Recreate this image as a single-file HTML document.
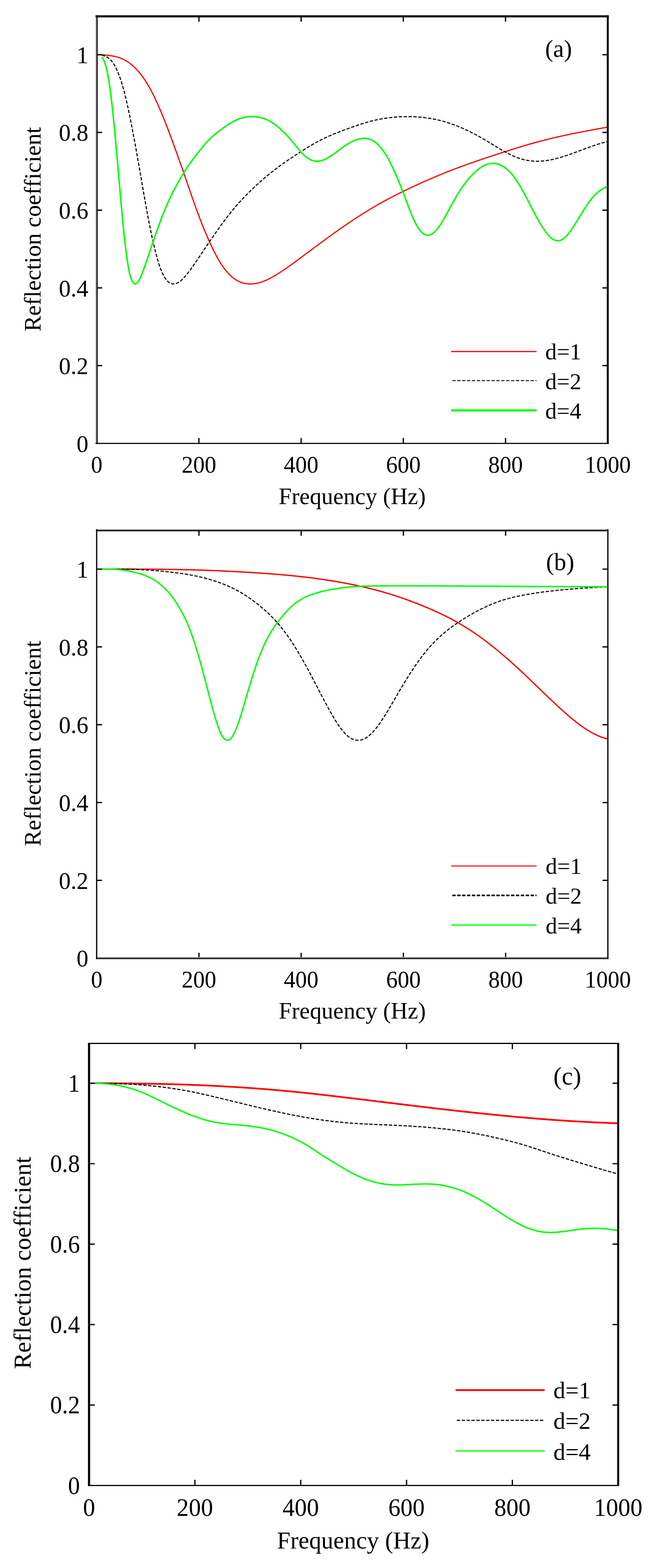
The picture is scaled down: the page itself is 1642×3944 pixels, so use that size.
<!DOCTYPE html>
<html lang="en">
<head>
<meta charset="utf-8">
<title>Reflection coefficient versus frequency</title>
<style>
html,body{margin:0;padding:0;background:#fff;}
body{width:1642px;height:3944px;overflow:hidden;}
svg{display:block;}
text{font-family:"Liberation Serif","DejaVu Serif",serif;fill:#000;}
.ax{stroke:#000;fill:none;stroke-linecap:butt;}
.r{stroke:#ff0000;fill:none;stroke-linejoin:round;}
.k{stroke:#000;fill:none;stroke-linejoin:round;}
.g{stroke:#00ff00;fill:none;stroke-linejoin:round;}
</style>
</head>
<body>
<svg width="1642" height="3944" viewBox="0 0 1642 3944">
<rect x="0" y="0" width="1642" height="3944" fill="#ffffff"/>
<g id="panel-a">
<path class="r" stroke-width="3" d="M256.1,137.8 L257.9,137.9 L259.7,138.0 L261.5,138.1 L263.3,138.3 L265.1,138.4 L267.0,138.6 L268.8,138.8 L270.6,139.0 L272.4,139.2 L274.2,139.4 L276.1,139.7 L277.9,139.9 L279.7,140.2 L281.5,140.5 L283.3,140.9 L285.2,141.2 L287.0,141.6 L288.8,142.0 L290.6,142.4 L292.4,142.9 L294.3,143.4 L296.1,143.9 L297.9,144.5 L299.7,145.1 L301.5,145.7 L303.4,146.4 L305.2,147.1 L307.0,147.9 L308.8,148.7 L310.6,149.6 L312.5,150.5 L314.3,151.5 L316.1,152.5 L317.9,153.6 L319.7,154.7 L321.6,155.9 L323.4,157.1 L325.2,158.4 L327.0,159.7 L328.8,161.2 L330.7,162.6 L332.5,164.1 L334.3,165.7 L336.1,167.4 L337.9,169.1 L339.8,170.9 L341.6,172.7 L343.4,174.6 L345.2,176.5 L347.0,178.6 L348.9,180.6 L350.7,182.8 L352.5,185.0 L354.3,187.3 L356.1,189.7 L358.0,192.1 L359.8,194.7 L361.6,197.3 L363.4,199.9 L365.2,202.7 L367.1,205.5 L368.9,208.4 L370.7,211.4 L372.5,214.5 L374.3,217.6 L376.2,220.8 L378.0,224.1 L379.8,227.5 L381.6,230.9 L383.4,234.5 L385.3,238.0 L387.1,241.7 L388.9,245.4 L390.7,249.3 L392.5,253.1 L394.4,257.1 L396.2,261.1 L398.0,265.2 L399.8,269.3 L401.6,273.5 L403.5,277.8 L405.3,282.1 L407.1,286.5 L408.9,291.0 L410.7,295.4 L412.6,300.0 L414.4,304.6 L416.2,309.2 L418.0,313.9 L419.8,318.6 L421.7,323.3 L423.5,328.1 L425.3,332.9 L427.1,337.8 L428.9,342.6 L430.8,347.5 L432.6,352.5 L434.4,357.4 L436.2,362.4 L438.0,367.4 L439.9,372.4 L441.7,377.4 L443.5,382.5 L445.3,387.6 L447.1,392.6 L449.0,397.8 L450.8,402.9 L452.6,408.0 L454.4,413.2 L456.2,418.4 L458.1,423.6 L459.9,428.8 L461.7,434.0 L463.5,439.3 L465.3,444.6 L467.2,449.9 L469.0,455.1 L470.8,460.4 L472.6,465.7 L474.4,471.0 L476.3,476.3 L478.1,481.6 L479.9,486.9 L481.7,492.1 L483.5,497.3 L485.4,502.5 L487.2,507.6 L489.0,512.8 L490.8,517.8 L492.6,522.9 L494.5,527.9 L496.3,532.8 L498.1,537.8 L499.9,542.6 L501.7,547.5 L503.6,552.2 L505.4,556.9 L507.2,561.6 L509.0,566.2 L510.8,570.8 L512.7,575.3 L514.5,579.7 L516.3,584.1 L518.1,588.4 L519.9,592.7 L521.8,596.9 L523.6,601.1 L525.4,605.1 L527.2,609.2 L529.0,613.2 L530.9,617.1 L532.7,620.9 L534.5,624.7 L536.3,628.4 L538.1,632.1 L540.0,635.7 L541.8,639.2 L543.6,642.6 L545.4,646.0 L547.2,649.3 L549.1,652.5 L550.9,655.6 L552.7,658.6 L554.5,661.5 L556.3,664.4 L558.2,667.2 L560.0,669.8 L561.8,672.4 L563.6,674.9 L565.4,677.3 L567.3,679.7 L569.1,681.9 L570.9,684.1 L572.7,686.1 L574.5,688.1 L576.4,690.0 L578.2,691.8 L580.0,693.6 L581.8,695.2 L583.6,696.8 L585.5,698.3 L587.3,699.7 L589.1,701.0 L590.9,702.3 L592.7,703.5 L594.6,704.6 L596.4,705.7 L598.2,706.6 L600.0,707.5 L601.8,708.4 L603.7,709.2 L605.5,709.9 L607.3,710.5 L609.1,711.1 L610.9,711.7 L612.8,712.2 L614.6,712.6 L616.4,713.0 L618.2,713.3 L620.0,713.6 L621.9,713.8 L623.7,714.0 L625.5,714.1 L627.3,714.2 L629.1,714.2 L631.0,714.2 L632.8,714.1 L634.6,714.1 L636.4,713.9 L638.2,713.7 L640.1,713.5 L641.9,713.3 L643.7,713.0 L645.5,712.6 L647.3,712.2 L649.2,711.8 L651.0,711.4 L652.8,710.9 L654.6,710.3 L656.4,709.8 L658.3,709.1 L660.1,708.5 L661.9,707.8 L663.7,707.1 L665.5,706.4 L667.4,705.6 L669.2,704.8 L671.0,704.0 L672.8,703.1 L674.6,702.3 L676.5,701.4 L678.3,700.4 L680.1,699.5 L681.9,698.5 L683.7,697.5 L685.6,696.5 L687.4,695.5 L689.2,694.4 L691.0,693.4 L692.8,692.3 L694.7,691.2 L696.5,690.1 L698.3,688.9 L700.1,687.8 L701.9,686.6 L703.8,685.4 L705.6,684.3 L707.4,683.1 L709.2,681.9 L711.0,680.6 L712.9,679.4 L714.7,678.2 L716.5,676.9 L718.3,675.7 L720.1,674.4 L722.0,673.1 L723.8,671.9 L725.6,670.6 L727.4,669.3 L729.2,668.0 L731.1,666.7 L732.9,665.3 L734.7,664.0 L736.5,662.7 L738.3,661.4 L740.2,660.1 L742.0,658.7 L743.8,657.4 L745.6,656.0 L747.4,654.7 L749.3,653.4 L751.1,652.0 L752.9,650.7 L754.7,649.3 L756.5,648.0 L758.4,646.6 L760.2,645.3 L762.0,643.9 L763.8,642.6 L765.6,641.2 L767.5,639.8 L769.3,638.5 L771.1,637.1 L772.9,635.8 L774.7,634.4 L776.6,633.1 L778.4,631.7 L780.2,630.4 L782.0,629.0 L783.8,627.6 L785.7,626.3 L787.5,624.9 L789.3,623.6 L791.1,622.2 L792.9,620.9 L794.8,619.5 L796.6,618.2 L798.4,616.8 L800.2,615.5 L802.0,614.1 L803.9,612.8 L805.7,611.4 L807.5,610.1 L809.3,608.8 L811.1,607.4 L813.0,606.1 L814.8,604.8 L816.6,603.4 L818.4,602.1 L820.2,600.8 L822.1,599.4 L823.9,598.1 L825.7,596.8 L827.5,595.5 L829.3,594.2 L831.2,592.9 L833.0,591.5 L834.8,590.2 L836.6,588.9 L838.4,587.6 L840.3,586.3 L842.1,585.0 L843.9,583.7 L845.7,582.4 L847.5,581.2 L849.4,579.9 L851.2,578.6 L853.0,577.3 L854.8,576.0 L856.6,574.8 L858.5,573.5 L860.3,572.2 L862.1,571.0 L863.9,569.7 L865.7,568.4 L867.6,567.2 L869.4,565.9 L871.2,564.7 L873.0,563.4 L874.8,562.2 L876.7,561.0 L878.5,559.7 L880.3,558.5 L882.1,557.3 L883.9,556.1 L885.8,554.8 L887.6,553.6 L889.4,552.4 L891.2,551.2 L893.0,550.0 L894.9,548.8 L896.7,547.6 L898.5,546.4 L900.3,545.3 L902.1,544.1 L904.0,542.9 L905.8,541.7 L907.6,540.6 L909.4,539.4 L911.2,538.3 L913.1,537.1 L914.9,536.0 L916.7,534.8 L918.5,533.7 L920.3,532.6 L922.2,531.4 L924.0,530.3 L925.8,529.2 L927.6,528.1 L929.4,527.0 L931.3,525.9 L933.1,524.8 L934.9,523.7 L936.7,522.6 L938.5,521.6 L940.4,520.5 L942.2,519.4 L944.0,518.4 L945.8,517.3 L947.6,516.3 L949.5,515.2 L951.3,514.2 L953.1,513.1 L954.9,512.1 L956.7,511.1 L958.6,510.1 L960.4,509.1 L962.2,508.1 L964.0,507.1 L965.8,506.1 L967.7,505.1 L969.5,504.1 L971.3,503.1 L973.1,502.1 L974.9,501.2 L976.8,500.2 L978.6,499.2 L980.4,498.3 L982.2,497.3 L984.0,496.4 L985.9,495.4 L987.7,494.5 L989.5,493.6 L991.3,492.6 L993.1,491.7 L995.0,490.8 L996.8,489.8 L998.6,488.9 L1000.4,488.0 L1002.2,487.1 L1004.1,486.2 L1005.9,485.3 L1007.7,484.4 L1009.5,483.5 L1011.3,482.6 L1013.2,481.7 L1015.0,480.8 L1016.8,479.9 L1018.6,479.1 L1020.4,478.2 L1022.3,477.3 L1024.1,476.4 L1025.9,475.6 L1027.7,474.7 L1029.5,473.8 L1031.4,472.9 L1033.2,472.1 L1035.0,471.2 L1036.8,470.4 L1038.6,469.5 L1040.5,468.7 L1042.3,467.8 L1044.1,467.0 L1045.9,466.1 L1047.7,465.3 L1049.6,464.5 L1051.4,463.6 L1053.2,462.8 L1055.0,462.0 L1056.8,461.1 L1058.7,460.3 L1060.5,459.5 L1062.3,458.7 L1064.1,457.9 L1065.9,457.1 L1067.8,456.2 L1069.6,455.4 L1071.4,454.6 L1073.2,453.8 L1075.0,453.0 L1076.9,452.2 L1078.7,451.5 L1080.5,450.7 L1082.3,449.9 L1084.1,449.1 L1086.0,448.3 L1087.8,447.5 L1089.6,446.8 L1091.4,446.0 L1093.2,445.2 L1095.1,444.5 L1096.9,443.7 L1098.7,442.9 L1100.5,442.2 L1102.3,441.4 L1104.1,440.7 L1106.0,439.9 L1107.8,439.2 L1109.6,438.4 L1111.4,437.7 L1113.2,436.9 L1115.1,436.2 L1116.9,435.5 L1118.7,434.7 L1120.5,434.0 L1122.3,433.3 L1124.2,432.6 L1126.0,431.8 L1127.8,431.1 L1129.6,430.4 L1131.4,429.7 L1133.3,429.0 L1135.1,428.3 L1136.9,427.6 L1138.7,426.9 L1140.5,426.2 L1142.4,425.5 L1144.2,424.8 L1146.0,424.1 L1147.8,423.4 L1149.6,422.7 L1151.5,422.0 L1153.3,421.3 L1155.1,420.6 L1156.9,420.0 L1158.7,419.3 L1160.6,418.6 L1162.4,417.9 L1164.2,417.3 L1166.0,416.6 L1167.8,416.0 L1169.7,415.3 L1171.5,414.6 L1173.3,414.0 L1175.1,413.3 L1176.9,412.7 L1178.8,412.0 L1180.6,411.4 L1182.4,410.7 L1184.2,410.1 L1186.0,409.5 L1187.9,408.8 L1189.7,408.2 L1191.5,407.5 L1193.3,406.9 L1195.1,406.3 L1197.0,405.7 L1198.8,405.0 L1200.6,404.4 L1202.4,403.8 L1204.2,403.2 L1206.1,402.5 L1207.9,401.9 L1209.7,401.3 L1211.5,400.7 L1213.3,400.1 L1215.2,399.5 L1217.0,398.9 L1218.8,398.3 L1220.6,397.7 L1222.4,397.1 L1224.3,396.4 L1226.1,395.8 L1227.9,395.2 L1229.7,394.6 L1231.5,394.0 L1233.4,393.4 L1235.2,392.8 L1237.0,392.3 L1238.8,391.7 L1240.6,391.1 L1242.5,390.5 L1244.3,389.9 L1246.1,389.3 L1247.9,388.7 L1249.7,388.1 L1251.6,387.5 L1253.4,386.9 L1255.2,386.3 L1257.0,385.7 L1258.8,385.2 L1260.7,384.6 L1262.5,384.0 L1264.3,383.4 L1266.1,382.8 L1267.9,382.2 L1269.8,381.6 L1271.6,381.1 L1273.4,380.5 L1275.2,379.9 L1277.0,379.3 L1278.9,378.7 L1280.7,378.1 L1282.5,377.6 L1284.3,377.0 L1286.1,376.4 L1288.0,375.8 L1289.8,375.3 L1291.6,374.7 L1293.4,374.1 L1295.2,373.5 L1297.1,373.0 L1298.9,372.4 L1300.7,371.8 L1302.5,371.3 L1304.3,370.7 L1306.2,370.2 L1308.0,369.6 L1309.8,369.0 L1311.6,368.5 L1313.4,367.9 L1315.3,367.4 L1317.1,366.8 L1318.9,366.3 L1320.7,365.8 L1322.5,365.2 L1324.4,364.7 L1326.2,364.2 L1328.0,363.6 L1329.8,363.1 L1331.6,362.6 L1333.5,362.0 L1335.3,361.5 L1337.1,361.0 L1338.9,360.5 L1340.7,360.0 L1342.6,359.5 L1344.4,359.0 L1346.2,358.5 L1348.0,358.0 L1349.8,357.5 L1351.7,357.0 L1353.5,356.5 L1355.3,356.0 L1357.1,355.5 L1358.9,355.0 L1360.8,354.6 L1362.6,354.1 L1364.4,353.6 L1366.2,353.1 L1368.0,352.7 L1369.9,352.2 L1371.7,351.8 L1373.5,351.3 L1375.3,350.8 L1377.1,350.4 L1379.0,349.9 L1380.8,349.5 L1382.6,349.1 L1384.4,348.6 L1386.2,348.2 L1388.1,347.7 L1389.9,347.3 L1391.7,346.9 L1393.5,346.4 L1395.3,346.0 L1397.2,345.6 L1399.0,345.2 L1400.8,344.8 L1402.6,344.3 L1404.4,343.9 L1406.3,343.5 L1408.1,343.1 L1409.9,342.7 L1411.7,342.3 L1413.5,341.9 L1415.4,341.5 L1417.2,341.1 L1419.0,340.7 L1420.8,340.3 L1422.6,339.9 L1424.5,339.5 L1426.3,339.2 L1428.1,338.8 L1429.9,338.4 L1431.7,338.0 L1433.6,337.6 L1435.4,337.2 L1437.2,336.9 L1439.0,336.5 L1440.8,336.1 L1442.7,335.8 L1444.5,335.4 L1446.3,335.0 L1448.1,334.6 L1449.9,334.3 L1451.8,333.9 L1453.6,333.6 L1455.4,333.2 L1457.2,332.8 L1459.0,332.5 L1460.9,332.1 L1462.7,331.8 L1464.5,331.4 L1466.3,331.1 L1468.1,330.7 L1470.0,330.4 L1471.8,330.0 L1473.6,329.7 L1475.4,329.3 L1477.2,329.0 L1479.1,328.6 L1480.9,328.3 L1482.7,328.0 L1484.5,327.6 L1486.3,327.3 L1488.2,326.9 L1490.0,326.6 L1491.8,326.3 L1493.6,325.9 L1495.4,325.6 L1497.3,325.3 L1499.1,324.9 L1500.9,324.6 L1502.7,324.3 L1504.5,323.9 L1506.4,323.6 L1508.2,323.3 L1510.0,322.9 L1511.8,322.6 L1513.6,322.3 L1515.5,322.0 L1517.3,321.6 L1519.1,321.3 L1520.9,321.0 L1522.7,320.7 L1524.6,320.3 L1526.4,320.0 L1528.2,319.7"/>
<path class="k" stroke-width="2.7" stroke-dasharray="8.4 3.9" d="M256.1,138.8 L257.9,139.2 L259.7,139.7 L261.5,140.2 L263.3,140.9 L265.1,141.6 L267.0,142.5 L268.8,143.4 L270.6,144.5 L272.4,145.8 L274.2,147.2 L276.1,148.8 L277.9,150.6 L279.7,152.5 L281.5,154.7 L283.3,157.2 L285.2,159.8 L287.0,162.7 L288.8,165.8 L290.6,169.2 L292.4,172.8 L294.3,176.7 L296.1,180.8 L297.9,185.2 L299.7,189.8 L301.5,194.8 L303.4,200.1 L305.2,205.7 L307.0,211.6 L308.8,217.8 L310.6,224.3 L312.5,231.1 L314.3,238.3 L316.1,245.7 L317.9,253.4 L319.7,261.3 L321.6,269.6 L323.4,278.1 L325.2,286.8 L327.0,295.7 L328.8,304.8 L330.7,314.1 L332.5,323.6 L334.3,333.2 L336.1,342.9 L337.9,352.8 L339.8,362.7 L341.6,372.7 L343.4,382.8 L345.2,393.0 L347.0,403.2 L348.9,413.5 L350.7,423.9 L352.5,434.4 L354.3,444.9 L356.1,455.5 L358.0,466.1 L359.8,476.6 L361.6,487.2 L363.4,497.6 L365.2,508.0 L367.1,518.1 L368.9,528.2 L370.7,538.1 L372.5,547.7 L374.3,557.2 L376.2,566.5 L378.0,575.5 L379.8,584.4 L381.6,592.9 L383.4,601.3 L385.3,609.4 L387.1,617.3 L388.9,624.9 L390.7,632.3 L392.5,639.4 L394.4,646.2 L396.2,652.6 L398.0,658.8 L399.8,664.6 L401.6,670.0 L403.5,675.1 L405.3,679.8 L407.1,684.2 L408.9,688.2 L410.7,691.9 L412.6,695.3 L414.4,698.4 L416.2,701.1 L418.0,703.6 L419.8,705.7 L421.7,707.6 L423.5,709.2 L425.3,710.6 L427.1,711.7 L428.9,712.6 L430.8,713.3 L432.6,713.8 L434.4,714.1 L436.2,714.2 L438.0,714.1 L439.9,713.9 L441.7,713.5 L443.5,712.9 L445.3,712.2 L447.1,711.3 L449.0,710.3 L450.8,709.1 L452.6,707.8 L454.4,706.3 L456.2,704.8 L458.1,703.1 L459.9,701.3 L461.7,699.4 L463.5,697.5 L465.3,695.4 L467.2,693.3 L469.0,691.1 L470.8,688.9 L472.6,686.5 L474.4,684.2 L476.3,681.8 L478.1,679.3 L479.9,676.9 L481.7,674.3 L483.5,671.8 L485.4,669.2 L487.2,666.6 L489.0,663.9 L490.8,661.3 L492.6,658.6 L494.5,656.0 L496.3,653.3 L498.1,650.6 L499.9,647.9 L501.7,645.2 L503.6,642.5 L505.4,639.8 L507.2,637.1 L509.0,634.3 L510.8,631.6 L512.7,628.9 L514.5,626.2 L516.3,623.5 L518.1,620.8 L519.9,618.1 L521.8,615.4 L523.6,612.7 L525.4,610.0 L527.2,607.3 L529.0,604.7 L530.9,602.0 L532.7,599.4 L534.5,596.7 L536.3,594.1 L538.1,591.5 L540.0,588.9 L541.8,586.2 L543.6,583.7 L545.4,581.1 L547.2,578.5 L549.1,576.0 L550.9,573.4 L552.7,570.9 L554.5,568.4 L556.3,565.9 L558.2,563.4 L560.0,560.9 L561.8,558.4 L563.6,556.0 L565.4,553.6 L567.3,551.1 L569.1,548.7 L570.9,546.4 L572.7,544.0 L574.5,541.7 L576.4,539.3 L578.2,537.0 L580.0,534.8 L581.8,532.5 L583.6,530.2 L585.5,528.0 L587.3,525.8 L589.1,523.6 L590.9,521.5 L592.7,519.4 L594.6,517.2 L596.4,515.2 L598.2,513.1 L600.0,511.0 L601.8,509.0 L603.7,507.0 L605.5,505.0 L607.3,503.0 L609.1,501.1 L610.9,499.2 L612.8,497.3 L614.6,495.4 L616.4,493.5 L618.2,491.6 L620.0,489.8 L621.9,488.0 L623.7,486.1 L625.5,484.3 L627.3,482.6 L629.1,480.8 L631.0,479.0 L632.8,477.2 L634.6,475.5 L636.4,473.8 L638.2,472.0 L640.1,470.3 L641.9,468.6 L643.7,466.9 L645.5,465.2 L647.3,463.6 L649.2,461.9 L651.0,460.3 L652.8,458.6 L654.6,457.0 L656.4,455.4 L658.3,453.8 L660.1,452.2 L661.9,450.6 L663.7,449.1 L665.5,447.5 L667.4,445.9 L669.2,444.4 L671.0,442.9 L672.8,441.4 L674.6,439.9 L676.5,438.4 L678.3,436.9 L680.1,435.4 L681.9,434.0 L683.7,432.5 L685.6,431.1 L687.4,429.6 L689.2,428.2 L691.0,426.8 L692.8,425.4 L694.7,424.0 L696.5,422.6 L698.3,421.3 L700.1,419.9 L701.9,418.6 L703.8,417.2 L705.6,415.9 L707.4,414.6 L709.2,413.3 L711.0,412.0 L712.9,410.7 L714.7,409.4 L716.5,408.1 L718.3,406.9 L720.1,405.6 L722.0,404.4 L723.8,403.1 L725.6,401.9 L727.4,400.7 L729.2,399.4 L731.1,398.2 L732.9,397.0 L734.7,395.8 L736.5,394.6 L738.3,393.4 L740.2,392.2 L742.0,391.0 L743.8,389.8 L745.6,388.7 L747.4,387.5 L749.3,386.3 L751.1,385.1 L752.9,383.9 L754.7,382.8 L756.5,381.6 L758.4,380.4 L760.2,379.3 L762.0,378.1 L763.8,377.0 L765.6,375.8 L767.5,374.7 L769.3,373.5 L771.1,372.4 L772.9,371.2 L774.7,370.1 L776.6,369.0 L778.4,367.9 L780.2,366.8 L782.0,365.7 L783.8,364.7 L785.7,363.6 L787.5,362.5 L789.3,361.5 L791.1,360.5 L792.9,359.4 L794.8,358.4 L796.6,357.4 L798.4,356.5 L800.2,355.5 L802.0,354.5 L803.9,353.6 L805.7,352.6 L807.5,351.7 L809.3,350.8 L811.1,349.9 L813.0,349.0 L814.8,348.1 L816.6,347.3 L818.4,346.4 L820.2,345.6 L822.1,344.7 L823.9,343.9 L825.7,343.1 L827.5,342.3 L829.3,341.5 L831.2,340.7 L833.0,339.9 L834.8,339.1 L836.6,338.4 L838.4,337.6 L840.3,336.8 L842.1,336.1 L843.9,335.4 L845.7,334.6 L847.5,333.9 L849.4,333.2 L851.2,332.5 L853.0,331.8 L854.8,331.0 L856.6,330.3 L858.5,329.7 L860.3,329.0 L862.1,328.3 L863.9,327.6 L865.7,326.9 L867.6,326.2 L869.4,325.6 L871.2,324.9 L873.0,324.2 L874.8,323.6 L876.7,322.9 L878.5,322.3 L880.3,321.6 L882.1,321.0 L883.9,320.3 L885.8,319.7 L887.6,319.0 L889.4,318.4 L891.2,317.8 L893.0,317.1 L894.9,316.5 L896.7,315.9 L898.5,315.2 L900.3,314.6 L902.1,314.0 L904.0,313.4 L905.8,312.8 L907.6,312.2 L909.4,311.6 L911.2,311.0 L913.1,310.5 L914.9,309.9 L916.7,309.3 L918.5,308.8 L920.3,308.3 L922.2,307.7 L924.0,307.2 L925.8,306.7 L927.6,306.2 L929.4,305.7 L931.3,305.2 L933.1,304.7 L934.9,304.3 L936.7,303.8 L938.5,303.4 L940.4,303.0 L942.2,302.5 L944.0,302.1 L945.8,301.7 L947.6,301.3 L949.5,301.0 L951.3,300.6 L953.1,300.2 L954.9,299.9 L956.7,299.5 L958.6,299.2 L960.4,298.9 L962.2,298.6 L964.0,298.3 L965.8,298.0 L967.7,297.7 L969.5,297.4 L971.3,297.1 L973.1,296.9 L974.9,296.6 L976.8,296.4 L978.6,296.2 L980.4,296.0 L982.2,295.8 L984.0,295.6 L985.9,295.4 L987.7,295.2 L989.5,295.0 L991.3,294.8 L993.1,294.7 L995.0,294.5 L996.8,294.4 L998.6,294.3 L1000.4,294.2 L1002.2,294.0 L1004.1,293.9 L1005.9,293.8 L1007.7,293.8 L1009.5,293.7 L1011.3,293.6 L1013.2,293.5 L1015.0,293.5 L1016.8,293.5 L1018.6,293.4 L1020.4,293.4 L1022.3,293.4 L1024.1,293.4 L1025.9,293.4 L1027.7,293.4 L1029.5,293.4 L1031.4,293.4 L1033.2,293.4 L1035.0,293.5 L1036.8,293.5 L1038.6,293.6 L1040.5,293.7 L1042.3,293.7 L1044.1,293.8 L1045.9,293.9 L1047.7,294.0 L1049.6,294.1 L1051.4,294.2 L1053.2,294.4 L1055.0,294.5 L1056.8,294.7 L1058.7,294.8 L1060.5,295.0 L1062.3,295.2 L1064.1,295.4 L1065.9,295.6 L1067.8,295.8 L1069.6,296.0 L1071.4,296.3 L1073.2,296.5 L1075.0,296.8 L1076.9,297.1 L1078.7,297.3 L1080.5,297.6 L1082.3,297.9 L1084.1,298.3 L1086.0,298.6 L1087.8,298.9 L1089.6,299.3 L1091.4,299.6 L1093.2,300.0 L1095.1,300.4 L1096.9,300.8 L1098.7,301.2 L1100.5,301.6 L1102.3,302.0 L1104.1,302.4 L1106.0,302.9 L1107.8,303.3 L1109.6,303.8 L1111.4,304.3 L1113.2,304.7 L1115.1,305.2 L1116.9,305.8 L1118.7,306.3 L1120.5,306.8 L1122.3,307.4 L1124.2,307.9 L1126.0,308.5 L1127.8,309.1 L1129.6,309.7 L1131.4,310.3 L1133.3,310.9 L1135.1,311.6 L1136.9,312.2 L1138.7,312.9 L1140.5,313.5 L1142.4,314.2 L1144.2,314.9 L1146.0,315.6 L1147.8,316.3 L1149.6,317.0 L1151.5,317.7 L1153.3,318.5 L1155.1,319.2 L1156.9,320.0 L1158.7,320.8 L1160.6,321.5 L1162.4,322.3 L1164.2,323.1 L1166.0,323.9 L1167.8,324.8 L1169.7,325.6 L1171.5,326.4 L1173.3,327.3 L1175.1,328.1 L1176.9,329.0 L1178.8,329.8 L1180.6,330.7 L1182.4,331.6 L1184.2,332.5 L1186.0,333.4 L1187.9,334.3 L1189.7,335.3 L1191.5,336.2 L1193.3,337.1 L1195.1,338.1 L1197.0,339.1 L1198.8,340.0 L1200.6,341.0 L1202.4,342.0 L1204.2,343.0 L1206.1,344.1 L1207.9,345.1 L1209.7,346.1 L1211.5,347.2 L1213.3,348.2 L1215.2,349.3 L1217.0,350.3 L1218.8,351.4 L1220.6,352.5 L1222.4,353.5 L1224.3,354.6 L1226.1,355.7 L1227.9,356.8 L1229.7,357.9 L1231.5,359.0 L1233.4,360.1 L1235.2,361.3 L1237.0,362.4 L1238.8,363.5 L1240.6,364.6 L1242.5,365.7 L1244.3,366.8 L1246.1,367.9 L1247.9,369.0 L1249.7,370.1 L1251.6,371.2 L1253.4,372.3 L1255.2,373.4 L1257.0,374.5 L1258.8,375.6 L1260.7,376.7 L1262.5,377.7 L1264.3,378.8 L1266.1,379.8 L1267.9,380.8 L1269.8,381.9 L1271.6,382.9 L1273.4,383.8 L1275.2,384.8 L1277.0,385.8 L1278.9,386.7 L1280.7,387.7 L1282.5,388.6 L1284.3,389.5 L1286.1,390.3 L1288.0,391.2 L1289.8,392.0 L1291.6,392.8 L1293.4,393.6 L1295.2,394.3 L1297.1,395.1 L1298.9,395.8 L1300.7,396.5 L1302.5,397.1 L1304.3,397.8 L1306.2,398.4 L1308.0,399.0 L1309.8,399.5 L1311.6,400.0 L1313.4,400.5 L1315.3,401.0 L1317.1,401.5 L1318.9,401.9 L1320.7,402.3 L1322.5,402.7 L1324.4,403.0 L1326.2,403.4 L1328.0,403.7 L1329.8,404.0 L1331.6,404.2 L1333.5,404.4 L1335.3,404.7 L1337.1,404.8 L1338.9,405.0 L1340.7,405.1 L1342.6,405.3 L1344.4,405.4 L1346.2,405.4 L1348.0,405.5 L1349.8,405.5 L1351.7,405.5 L1353.5,405.5 L1355.3,405.5 L1357.1,405.4 L1358.9,405.3 L1360.8,405.2 L1362.6,405.1 L1364.4,405.0 L1366.2,404.8 L1368.0,404.6 L1369.9,404.4 L1371.7,404.2 L1373.5,403.9 L1375.3,403.7 L1377.1,403.4 L1379.0,403.1 L1380.8,402.8 L1382.6,402.5 L1384.4,402.1 L1386.2,401.8 L1388.1,401.4 L1389.9,401.0 L1391.7,400.6 L1393.5,400.2 L1395.3,399.7 L1397.2,399.3 L1399.0,398.8 L1400.8,398.3 L1402.6,397.8 L1404.4,397.3 L1406.3,396.8 L1408.1,396.3 L1409.9,395.7 L1411.7,395.2 L1413.5,394.6 L1415.4,394.1 L1417.2,393.5 L1419.0,392.9 L1420.8,392.3 L1422.6,391.7 L1424.5,391.1 L1426.3,390.5 L1428.1,389.9 L1429.9,389.2 L1431.7,388.6 L1433.6,388.0 L1435.4,387.3 L1437.2,386.7 L1439.0,386.0 L1440.8,385.4 L1442.7,384.7 L1444.5,384.0 L1446.3,383.4 L1448.1,382.7 L1449.9,382.0 L1451.8,381.3 L1453.6,380.7 L1455.4,380.0 L1457.2,379.3 L1459.0,378.6 L1460.9,377.9 L1462.7,377.2 L1464.5,376.6 L1466.3,375.9 L1468.1,375.2 L1470.0,374.5 L1471.8,373.9 L1473.6,373.2 L1475.4,372.5 L1477.2,371.9 L1479.1,371.2 L1480.9,370.5 L1482.7,369.9 L1484.5,369.2 L1486.3,368.6 L1488.2,368.0 L1490.0,367.3 L1491.8,366.7 L1493.6,366.1 L1495.4,365.5 L1497.3,364.9 L1499.1,364.3 L1500.9,363.7 L1502.7,363.1 L1504.5,362.5 L1506.4,362.0 L1508.2,361.4 L1510.0,360.9 L1511.8,360.3 L1513.6,359.8 L1515.5,359.3 L1517.3,358.8 L1519.1,358.3 L1520.9,357.8 L1522.7,357.3 L1524.6,356.9 L1526.4,356.4 L1528.2,356.0"/>
<path class="g" stroke-width="3.8" d="M256.1,143.5 L257.9,145.9 L259.7,148.9 L261.5,152.7 L263.3,157.3 L265.1,162.9 L267.0,169.4 L268.8,176.9 L270.6,185.4 L272.4,195.1 L274.2,206.0 L276.1,218.2 L277.9,231.6 L279.7,246.1 L281.5,261.8 L283.3,278.6 L285.2,296.3 L287.0,314.7 L288.8,333.8 L290.6,353.4 L292.4,373.3 L294.3,393.6 L296.1,414.1 L297.9,435.0 L299.7,456.1 L301.5,477.3 L303.4,498.3 L305.2,518.8 L307.0,538.7 L308.8,557.8 L310.6,576.1 L312.5,593.5 L314.3,609.9 L316.1,625.4 L317.9,639.8 L319.7,653.0 L321.6,664.9 L323.4,675.4 L325.2,684.5 L327.0,692.2 L328.8,698.5 L330.7,703.7 L332.5,707.7 L334.3,710.7 L336.1,712.7 L337.9,713.8 L339.8,714.2 L341.6,713.9 L343.4,712.9 L345.2,711.3 L347.0,709.0 L348.9,706.2 L350.7,703.0 L352.5,699.3 L354.3,695.3 L356.1,691.0 L358.0,686.4 L359.8,681.6 L361.6,676.7 L363.4,671.6 L365.2,666.4 L367.1,661.1 L368.9,655.8 L370.7,650.4 L372.5,645.0 L374.3,639.6 L376.2,634.2 L378.0,628.8 L379.8,623.3 L381.6,617.9 L383.4,612.5 L385.3,607.2 L387.1,601.9 L388.9,596.6 L390.7,591.3 L392.5,586.1 L394.4,580.9 L396.2,575.8 L398.0,570.7 L399.8,565.7 L401.6,560.7 L403.5,555.8 L405.3,551.0 L407.1,546.2 L408.9,541.5 L410.7,536.9 L412.6,532.4 L414.4,527.9 L416.2,523.5 L418.0,519.2 L419.8,515.0 L421.7,510.9 L423.5,506.9 L425.3,502.9 L427.1,499.1 L428.9,495.3 L430.8,491.5 L432.6,487.8 L434.4,484.2 L436.2,480.7 L438.0,477.1 L439.9,473.7 L441.7,470.2 L443.5,466.8 L445.3,463.5 L447.1,460.2 L449.0,456.9 L450.8,453.7 L452.6,450.5 L454.4,447.4 L456.2,444.3 L458.1,441.3 L459.9,438.3 L461.7,435.3 L463.5,432.4 L465.3,429.6 L467.2,426.7 L469.0,423.9 L470.8,421.2 L472.6,418.5 L474.4,415.8 L476.3,413.2 L478.1,410.6 L479.9,408.1 L481.7,405.5 L483.5,403.1 L485.4,400.6 L487.2,398.2 L489.0,395.7 L490.8,393.3 L492.6,391.0 L494.5,388.6 L496.3,386.2 L498.1,383.9 L499.9,381.5 L501.7,379.2 L503.6,376.9 L505.4,374.6 L507.2,372.3 L509.0,370.1 L510.8,367.8 L512.7,365.7 L514.5,363.5 L516.3,361.4 L518.1,359.4 L519.9,357.4 L521.8,355.4 L523.6,353.5 L525.4,351.7 L527.2,349.9 L529.0,348.1 L530.9,346.4 L532.7,344.7 L534.5,343.0 L536.3,341.4 L538.1,339.9 L540.0,338.3 L541.8,336.8 L543.6,335.3 L545.4,333.9 L547.2,332.4 L549.1,331.0 L550.9,329.6 L552.7,328.2 L554.5,326.9 L556.3,325.5 L558.2,324.2 L560.0,322.9 L561.8,321.6 L563.6,320.3 L565.4,319.0 L567.3,317.7 L569.1,316.5 L570.9,315.2 L572.7,314.0 L574.5,312.8 L576.4,311.6 L578.2,310.4 L580.0,309.3 L581.8,308.2 L583.6,307.2 L585.5,306.2 L587.3,305.2 L589.1,304.3 L590.9,303.4 L592.7,302.5 L594.6,301.7 L596.4,300.9 L598.2,300.2 L600.0,299.5 L601.8,298.9 L603.7,298.2 L605.5,297.7 L607.3,297.1 L609.1,296.6 L610.9,296.2 L612.8,295.7 L614.6,295.3 L616.4,295.0 L618.2,294.7 L620.0,294.4 L621.9,294.1 L623.7,293.9 L625.5,293.8 L627.3,293.6 L629.1,293.5 L631.0,293.4 L632.8,293.4 L634.6,293.4 L636.4,293.4 L638.2,293.4 L640.1,293.5 L641.9,293.7 L643.7,293.8 L645.5,294.0 L647.3,294.3 L649.2,294.5 L651.0,294.8 L652.8,295.2 L654.6,295.6 L656.4,296.1 L658.3,296.5 L660.1,297.1 L661.9,297.7 L663.7,298.3 L665.5,298.9 L667.4,299.6 L669.2,300.4 L671.0,301.2 L672.8,302.0 L674.6,302.9 L676.5,303.8 L678.3,304.8 L680.1,305.8 L681.9,306.9 L683.7,308.0 L685.6,309.1 L687.4,310.3 L689.2,311.6 L691.0,312.9 L692.8,314.2 L694.7,315.6 L696.5,317.1 L698.3,318.5 L700.1,320.0 L701.9,321.6 L703.8,323.2 L705.6,324.8 L707.4,326.5 L709.2,328.2 L711.0,329.9 L712.9,331.7 L714.7,333.5 L716.5,335.3 L718.3,337.2 L720.1,339.1 L722.0,341.1 L723.8,343.1 L725.6,345.1 L727.4,347.2 L729.2,349.3 L731.1,351.5 L732.9,353.6 L734.7,355.8 L736.5,358.0 L738.3,360.2 L740.2,362.4 L742.0,364.7 L743.8,366.9 L745.6,369.1 L747.4,371.3 L749.3,373.5 L751.1,375.7 L752.9,377.8 L754.7,379.9 L756.5,381.9 L758.4,383.9 L760.2,385.8 L762.0,387.7 L763.8,389.5 L765.6,391.2 L767.5,392.9 L769.3,394.4 L771.1,395.8 L772.9,397.2 L774.7,398.4 L776.6,399.5 L778.4,400.6 L780.2,401.5 L782.0,402.3 L783.8,403.1 L785.7,403.7 L787.5,404.2 L789.3,404.7 L791.1,405.0 L792.9,405.3 L794.8,405.4 L796.6,405.5 L798.4,405.5 L800.2,405.4 L802.0,405.2 L803.9,404.9 L805.7,404.6 L807.5,404.2 L809.3,403.7 L811.1,403.1 L813.0,402.4 L814.8,401.7 L816.6,401.0 L818.4,400.1 L820.2,399.2 L822.1,398.3 L823.9,397.3 L825.7,396.2 L827.5,395.2 L829.3,394.0 L831.2,392.9 L833.0,391.7 L834.8,390.5 L836.6,389.2 L838.4,387.9 L840.3,386.6 L842.1,385.3 L843.9,384.0 L845.7,382.6 L847.5,381.3 L849.4,379.9 L851.2,378.6 L853.0,377.2 L854.8,375.8 L856.6,374.5 L858.5,373.1 L860.3,371.8 L862.1,370.5 L863.9,369.2 L865.7,367.9 L867.6,366.7 L869.4,365.4 L871.2,364.2 L873.0,363.1 L874.8,361.9 L876.7,360.8 L878.5,359.8 L880.3,358.8 L882.1,357.8 L883.9,356.9 L885.8,356.0 L887.6,355.1 L889.4,354.3 L891.2,353.6 L893.0,352.8 L894.9,352.2 L896.7,351.5 L898.5,350.9 L900.3,350.4 L902.1,349.9 L904.0,349.5 L905.8,349.1 L907.6,348.7 L909.4,348.5 L911.2,348.3 L913.1,348.1 L914.9,348.0 L916.7,348.0 L918.5,348.1 L920.3,348.2 L922.2,348.4 L924.0,348.7 L925.8,349.1 L927.6,349.6 L929.4,350.1 L931.3,350.8 L933.1,351.5 L934.9,352.4 L936.7,353.3 L938.5,354.4 L940.4,355.5 L942.2,356.8 L944.0,358.2 L945.8,359.6 L947.6,361.2 L949.5,362.8 L951.3,364.6 L953.1,366.5 L954.9,368.5 L956.7,370.5 L958.6,372.7 L960.4,375.0 L962.2,377.4 L964.0,379.9 L965.8,382.5 L967.7,385.3 L969.5,388.1 L971.3,391.0 L973.1,394.1 L974.9,397.2 L976.8,400.5 L978.6,403.8 L980.4,407.3 L982.2,410.9 L984.0,414.5 L985.9,418.3 L987.7,422.2 L989.5,426.1 L991.3,430.1 L993.1,434.2 L995.0,438.3 L996.8,442.5 L998.6,446.8 L1000.4,451.1 L1002.2,455.5 L1004.1,459.9 L1005.9,464.3 L1007.7,468.8 L1009.5,473.4 L1011.3,478.0 L1013.2,482.7 L1015.0,487.4 L1016.8,492.2 L1018.6,497.1 L1020.4,501.9 L1022.3,506.8 L1024.1,511.7 L1025.9,516.5 L1027.7,521.3 L1029.5,526.0 L1031.4,530.6 L1033.2,535.1 L1035.0,539.6 L1036.8,543.9 L1038.6,548.1 L1040.5,552.1 L1042.3,556.1 L1044.1,559.8 L1045.9,563.4 L1047.7,566.7 L1049.6,569.9 L1051.4,572.8 L1053.2,575.6 L1055.0,578.1 L1056.8,580.3 L1058.7,582.4 L1060.5,584.3 L1062.3,585.9 L1064.1,587.4 L1065.9,588.6 L1067.8,589.6 L1069.6,590.4 L1071.4,591.0 L1073.2,591.4 L1075.0,591.6 L1076.9,591.6 L1078.7,591.4 L1080.5,590.9 L1082.3,590.3 L1084.1,589.5 L1086.0,588.5 L1087.8,587.4 L1089.6,586.0 L1091.4,584.5 L1093.2,582.9 L1095.1,581.0 L1096.9,579.0 L1098.7,576.9 L1100.5,574.6 L1102.3,572.2 L1104.1,569.7 L1106.0,567.1 L1107.8,564.3 L1109.6,561.4 L1111.4,558.5 L1113.2,555.5 L1115.1,552.4 L1116.9,549.3 L1118.7,546.1 L1120.5,542.8 L1122.3,539.5 L1124.2,536.2 L1126.0,532.9 L1127.8,529.6 L1129.6,526.2 L1131.4,522.9 L1133.3,519.5 L1135.1,516.2 L1136.9,512.8 L1138.7,509.5 L1140.5,506.3 L1142.4,503.0 L1144.2,499.8 L1146.0,496.7 L1147.8,493.6 L1149.6,490.5 L1151.5,487.5 L1153.3,484.6 L1155.1,481.7 L1156.9,478.9 L1158.7,476.1 L1160.6,473.4 L1162.4,470.8 L1164.2,468.2 L1166.0,465.6 L1167.8,463.2 L1169.7,460.8 L1171.5,458.4 L1173.3,456.1 L1175.1,453.8 L1176.9,451.6 L1178.8,449.5 L1180.6,447.4 L1182.4,445.3 L1184.2,443.3 L1186.0,441.3 L1187.9,439.4 L1189.7,437.5 L1191.5,435.7 L1193.3,434.0 L1195.1,432.3 L1197.0,430.6 L1198.8,429.0 L1200.6,427.5 L1202.4,426.0 L1204.2,424.6 L1206.1,423.2 L1207.9,422.0 L1209.7,420.7 L1211.5,419.6 L1213.3,418.5 L1215.2,417.5 L1217.0,416.6 L1218.8,415.7 L1220.6,414.9 L1222.4,414.2 L1224.3,413.5 L1226.1,413.0 L1227.9,412.5 L1229.7,412.0 L1231.5,411.7 L1233.4,411.4 L1235.2,411.2 L1237.0,411.0 L1238.8,411.0 L1240.6,411.0 L1242.5,411.0 L1244.3,411.2 L1246.1,411.4 L1247.9,411.7 L1249.7,412.1 L1251.6,412.5 L1253.4,413.1 L1255.2,413.7 L1257.0,414.4 L1258.8,415.2 L1260.7,416.0 L1262.5,417.0 L1264.3,418.0 L1266.1,419.1 L1267.9,420.3 L1269.8,421.6 L1271.6,422.9 L1273.4,424.4 L1275.2,425.9 L1277.0,427.6 L1278.9,429.3 L1280.7,431.1 L1282.5,433.0 L1284.3,435.0 L1286.1,437.1 L1288.0,439.2 L1289.8,441.5 L1291.6,443.8 L1293.4,446.3 L1295.2,448.8 L1297.1,451.4 L1298.9,454.1 L1300.7,456.8 L1302.5,459.7 L1304.3,462.6 L1306.2,465.5 L1308.0,468.6 L1309.8,471.7 L1311.6,474.8 L1313.4,478.0 L1315.3,481.3 L1317.1,484.6 L1318.9,488.0 L1320.7,491.4 L1322.5,494.8 L1324.4,498.3 L1326.2,501.8 L1328.0,505.3 L1329.8,508.8 L1331.6,512.3 L1333.5,515.9 L1335.3,519.4 L1337.1,522.9 L1338.9,526.5 L1340.7,530.0 L1342.6,533.5 L1344.4,536.9 L1346.2,540.4 L1348.0,543.8 L1349.8,547.1 L1351.7,550.4 L1353.5,553.6 L1355.3,556.8 L1357.1,559.9 L1358.9,563.0 L1360.8,566.0 L1362.6,568.9 L1364.4,571.8 L1366.2,574.6 L1368.0,577.3 L1369.9,580.0 L1371.7,582.5 L1373.5,585.0 L1375.3,587.3 L1377.1,589.6 L1379.0,591.7 L1380.8,593.7 L1382.6,595.6 L1384.4,597.3 L1386.2,598.9 L1388.1,600.3 L1389.9,601.6 L1391.7,602.6 L1393.5,603.6 L1395.3,604.3 L1397.2,604.9 L1399.0,605.3 L1400.8,605.5 L1402.6,605.6 L1404.4,605.5 L1406.3,605.2 L1408.1,604.8 L1409.9,604.2 L1411.7,603.4 L1413.5,602.4 L1415.4,601.3 L1417.2,600.0 L1419.0,598.6 L1420.8,597.0 L1422.6,595.3 L1424.5,593.4 L1426.3,591.4 L1428.1,589.3 L1429.9,587.1 L1431.7,584.8 L1433.6,582.3 L1435.4,579.8 L1437.2,577.2 L1439.0,574.5 L1440.8,571.7 L1442.7,568.9 L1444.5,566.1 L1446.3,563.2 L1448.1,560.2 L1449.9,557.3 L1451.8,554.3 L1453.6,551.3 L1455.4,548.3 L1457.2,545.3 L1459.0,542.4 L1460.9,539.4 L1462.7,536.4 L1464.5,533.5 L1466.3,530.5 L1468.1,527.6 L1470.0,524.8 L1471.8,522.0 L1473.6,519.2 L1475.4,516.5 L1477.2,513.8 L1479.1,511.2 L1480.9,508.6 L1482.7,506.2 L1484.5,503.7 L1486.3,501.4 L1488.2,499.1 L1490.0,497.0 L1491.8,494.9 L1493.6,492.8 L1495.4,490.9 L1497.3,489.1 L1499.1,487.3 L1500.9,485.6 L1502.7,484.0 L1504.5,482.5 L1506.4,481.0 L1508.2,479.7 L1510.0,478.4 L1511.8,477.2 L1513.6,476.0 L1515.5,474.9 L1517.3,473.9 L1519.1,472.9 L1520.9,471.9 L1522.7,471.0 L1524.6,470.1 L1526.4,469.2 L1528.2,468.3"/>
<path class="ax" stroke-width="3.2" d="M243.2,919.7h13.5 M1528.2,919.7h-13.5 M243.2,724.2h13.5 M1528.2,724.2h-13.5 M243.2,528.6h13.5 M1528.2,528.6h-13.5 M243.2,333.1h13.5 M1528.2,333.1h-13.5 M243.2,137.6h13.5 M1528.2,137.6h-13.5 M500.2,1115.2v-13.5 M500.2,41.0v13.5 M757.2,1115.2v-13.5 M757.2,41.0v13.5 M1014.2,1115.2v-13.5 M1014.2,41.0v13.5 M1271.2,1115.2v-13.5 M1271.2,41.0v13.5"/>
<rect x="240.3" y="38.5" width="2.70" height="1078.20" fill="#9a9a9a"/>
<rect x="243" y="38.5" width="2.60" height="1078.20" fill="#000"/>
<rect x="1525.8" y="38.5" width="4.90" height="1078.20" fill="#000"/>
<rect x="240.3" y="38.5" width="1290.40" height="5.20" fill="#000"/>
<rect x="240.3" y="1113.9" width="1290.40" height="2.80" fill="#000"/>
<text transform="translate(243.2,1188.7) scale(1,1.04)" font-size="58" text-anchor="middle">0</text>
<text transform="translate(500.2,1188.7) scale(1,1.04)" font-size="58" text-anchor="middle">200</text>
<text transform="translate(757.2,1188.7) scale(1,1.04)" font-size="58" text-anchor="middle">400</text>
<text transform="translate(1014.2,1188.7) scale(1,1.04)" font-size="58" text-anchor="middle">600</text>
<text transform="translate(1271.2,1188.7) scale(1,1.04)" font-size="58" text-anchor="middle">800</text>
<text transform="translate(1528.2,1188.7) scale(1,1.04)" font-size="58" text-anchor="middle">1000</text>
<text transform="translate(222.3,1136.5) scale(1,1.04)" font-size="59.5" text-anchor="end">0</text>
<text transform="translate(222.3,941.0) scale(1,1.04)" font-size="59.5" text-anchor="end">0.2</text>
<text transform="translate(222.3,745.5) scale(1,1.04)" font-size="59.5" text-anchor="end">0.4</text>
<text transform="translate(222.3,550.0) scale(1,1.04)" font-size="59.5" text-anchor="end">0.6</text>
<text transform="translate(222.3,354.4) scale(1,1.04)" font-size="59.5" text-anchor="end">0.8</text>
<text transform="translate(222.3,158.9) scale(1,1.04)" font-size="59.5" text-anchor="end">1</text>
<text x="885.7" y="1268" font-size="58.7" text-anchor="middle">Frequency (Hz)</text>
<text transform="translate(101.7,576.6) rotate(-90)" font-size="59.3" text-anchor="middle">Reflection coefficient</text>
<text x="1404.5" y="143.4" font-size="61" text-anchor="middle">(a)</text>
<path class="r" stroke-width="3" d="M1134.3,884.2H1349"/>
<text x="1371" y="904" font-size="58">d=1</text>
<path class="k" stroke-width="2.2" stroke-dasharray="8.4 3.9" stroke-dashoffset="9.2" d="M1134.3,957.3H1349"/>
<text x="1371" y="978.6" font-size="58">d=2</text>
<path class="g" stroke-width="5.4" d="M1134.3,1032.3H1349"/>
<text x="1371" y="1053.2" font-size="58">d=4</text>
</g>
<g id="panel-b">
<path class="r" stroke-width="3.3" d="M256.1,1431.5 L257.9,1431.5 L259.7,1431.5 L261.5,1431.5 L263.3,1431.5 L265.2,1431.5 L267.0,1431.5 L268.8,1431.5 L270.6,1431.5 L272.4,1431.5 L274.3,1431.5 L276.1,1431.5 L277.9,1431.5 L279.7,1431.5 L281.5,1431.5 L283.4,1431.5 L285.2,1431.5 L287.0,1431.5 L288.8,1431.5 L290.6,1431.5 L292.5,1431.5 L294.3,1431.5 L296.1,1431.5 L297.9,1431.5 L299.7,1431.5 L301.6,1431.5 L303.4,1431.5 L305.2,1431.5 L307.0,1431.5 L308.8,1431.5 L310.7,1431.5 L312.5,1431.5 L314.3,1431.5 L316.1,1431.5 L317.9,1431.5 L319.8,1431.5 L321.6,1431.5 L323.4,1431.5 L325.2,1431.5 L327.0,1431.5 L328.9,1431.5 L330.7,1431.5 L332.5,1431.5 L334.3,1431.5 L336.1,1431.5 L338.0,1431.5 L339.8,1431.5 L341.6,1431.5 L343.4,1431.6 L345.3,1431.6 L347.1,1431.6 L348.9,1431.6 L350.7,1431.6 L352.5,1431.6 L354.4,1431.6 L356.2,1431.6 L358.0,1431.6 L359.8,1431.6 L361.6,1431.6 L363.5,1431.7 L365.3,1431.7 L367.1,1431.7 L368.9,1431.7 L370.7,1431.7 L372.6,1431.7 L374.4,1431.7 L376.2,1431.7 L378.0,1431.7 L379.8,1431.8 L381.7,1431.8 L383.5,1431.8 L385.3,1431.8 L387.1,1431.8 L388.9,1431.8 L390.8,1431.8 L392.6,1431.9 L394.4,1431.9 L396.2,1431.9 L398.0,1431.9 L399.9,1431.9 L401.7,1431.9 L403.5,1432.0 L405.3,1432.0 L407.1,1432.0 L409.0,1432.0 L410.8,1432.0 L412.6,1432.1 L414.4,1432.1 L416.2,1432.1 L418.1,1432.1 L419.9,1432.2 L421.7,1432.2 L423.5,1432.2 L425.3,1432.2 L427.2,1432.3 L429.0,1432.3 L430.8,1432.3 L432.6,1432.3 L434.5,1432.4 L436.3,1432.4 L438.1,1432.4 L439.9,1432.4 L441.7,1432.5 L443.6,1432.5 L445.4,1432.5 L447.2,1432.6 L449.0,1432.6 L450.8,1432.6 L452.7,1432.7 L454.5,1432.7 L456.3,1432.7 L458.1,1432.8 L459.9,1432.8 L461.8,1432.9 L463.6,1432.9 L465.4,1432.9 L467.2,1433.0 L469.0,1433.0 L470.9,1433.1 L472.7,1433.1 L474.5,1433.1 L476.3,1433.2 L478.1,1433.2 L480.0,1433.3 L481.8,1433.3 L483.6,1433.4 L485.4,1433.4 L487.2,1433.5 L489.1,1433.5 L490.9,1433.6 L492.7,1433.6 L494.5,1433.7 L496.3,1433.7 L498.2,1433.8 L500.0,1433.8 L501.8,1433.9 L503.6,1434.0 L505.4,1434.0 L507.3,1434.1 L509.1,1434.1 L510.9,1434.2 L512.7,1434.3 L514.5,1434.3 L516.4,1434.4 L518.2,1434.4 L520.0,1434.5 L521.8,1434.6 L523.6,1434.6 L525.5,1434.7 L527.3,1434.8 L529.1,1434.8 L530.9,1434.9 L532.8,1435.0 L534.6,1435.1 L536.4,1435.1 L538.2,1435.2 L540.0,1435.3 L541.9,1435.4 L543.7,1435.4 L545.5,1435.5 L547.3,1435.6 L549.1,1435.7 L551.0,1435.7 L552.8,1435.8 L554.6,1435.9 L556.4,1436.0 L558.2,1436.1 L560.1,1436.1 L561.9,1436.2 L563.7,1436.3 L565.5,1436.4 L567.3,1436.5 L569.2,1436.6 L571.0,1436.7 L572.8,1436.7 L574.6,1436.8 L576.4,1436.9 L578.3,1437.0 L580.1,1437.1 L581.9,1437.2 L583.7,1437.3 L585.5,1437.4 L587.4,1437.5 L589.2,1437.6 L591.0,1437.7 L592.8,1437.8 L594.6,1437.9 L596.5,1438.0 L598.3,1438.1 L600.1,1438.2 L601.9,1438.3 L603.7,1438.4 L605.6,1438.5 L607.4,1438.6 L609.2,1438.7 L611.0,1438.8 L612.8,1438.9 L614.7,1439.0 L616.5,1439.1 L618.3,1439.2 L620.1,1439.3 L621.9,1439.4 L623.8,1439.5 L625.6,1439.6 L627.4,1439.7 L629.2,1439.8 L631.1,1440.0 L632.9,1440.1 L634.7,1440.2 L636.5,1440.3 L638.3,1440.4 L640.2,1440.5 L642.0,1440.6 L643.8,1440.8 L645.6,1440.9 L647.4,1441.0 L649.3,1441.1 L651.1,1441.2 L652.9,1441.4 L654.7,1441.5 L656.5,1441.6 L658.4,1441.7 L660.2,1441.9 L662.0,1442.0 L663.8,1442.1 L665.6,1442.3 L667.5,1442.4 L669.3,1442.5 L671.1,1442.6 L672.9,1442.8 L674.7,1442.9 L676.6,1443.1 L678.4,1443.2 L680.2,1443.3 L682.0,1443.5 L683.8,1443.6 L685.7,1443.7 L687.5,1443.9 L689.3,1444.0 L691.1,1444.2 L692.9,1444.3 L694.8,1444.5 L696.6,1444.6 L698.4,1444.8 L700.2,1444.9 L702.0,1445.1 L703.9,1445.2 L705.7,1445.4 L707.5,1445.6 L709.3,1445.7 L711.1,1445.9 L713.0,1446.0 L714.8,1446.2 L716.6,1446.4 L718.4,1446.5 L720.3,1446.7 L722.1,1446.9 L723.9,1447.0 L725.7,1447.2 L727.5,1447.4 L729.4,1447.6 L731.2,1447.7 L733.0,1447.9 L734.8,1448.1 L736.6,1448.3 L738.5,1448.5 L740.3,1448.6 L742.1,1448.8 L743.9,1449.0 L745.7,1449.2 L747.6,1449.4 L749.4,1449.6 L751.2,1449.8 L753.0,1450.0 L754.8,1450.2 L756.7,1450.4 L758.5,1450.6 L760.3,1450.8 L762.1,1451.0 L763.9,1451.2 L765.8,1451.4 L767.6,1451.6 L769.4,1451.9 L771.2,1452.1 L773.0,1452.3 L774.9,1452.5 L776.7,1452.7 L778.5,1453.0 L780.3,1453.2 L782.1,1453.4 L784.0,1453.7 L785.8,1453.9 L787.6,1454.1 L789.4,1454.4 L791.2,1454.6 L793.1,1454.9 L794.9,1455.1 L796.7,1455.4 L798.5,1455.6 L800.3,1455.9 L802.2,1456.1 L804.0,1456.4 L805.8,1456.6 L807.6,1456.9 L809.4,1457.1 L811.3,1457.4 L813.1,1457.7 L814.9,1457.9 L816.7,1458.2 L818.6,1458.5 L820.4,1458.8 L822.2,1459.0 L824.0,1459.3 L825.8,1459.6 L827.7,1459.9 L829.5,1460.2 L831.3,1460.5 L833.1,1460.8 L834.9,1461.0 L836.8,1461.3 L838.6,1461.6 L840.4,1461.9 L842.2,1462.2 L844.0,1462.6 L845.9,1462.9 L847.7,1463.2 L849.5,1463.5 L851.3,1463.8 L853.1,1464.1 L855.0,1464.4 L856.8,1464.8 L858.6,1465.1 L860.4,1465.4 L862.2,1465.8 L864.1,1466.1 L865.9,1466.4 L867.7,1466.8 L869.5,1467.1 L871.3,1467.5 L873.2,1467.8 L875.0,1468.2 L876.8,1468.5 L878.6,1468.9 L880.4,1469.2 L882.3,1469.6 L884.1,1470.0 L885.9,1470.3 L887.7,1470.7 L889.5,1471.1 L891.4,1471.4 L893.2,1471.8 L895.0,1472.2 L896.8,1472.6 L898.6,1473.0 L900.5,1473.4 L902.3,1473.8 L904.1,1474.2 L905.9,1474.6 L907.7,1475.0 L909.6,1475.4 L911.4,1475.8 L913.2,1476.2 L915.0,1476.6 L916.9,1477.1 L918.7,1477.5 L920.5,1477.9 L922.3,1478.3 L924.1,1478.8 L926.0,1479.2 L927.8,1479.7 L929.6,1480.1 L931.4,1480.6 L933.2,1481.0 L935.1,1481.5 L936.9,1481.9 L938.7,1482.4 L940.5,1482.9 L942.3,1483.3 L944.2,1483.8 L946.0,1484.3 L947.8,1484.8 L949.6,1485.3 L951.4,1485.8 L953.3,1486.3 L955.1,1486.8 L956.9,1487.3 L958.7,1487.8 L960.5,1488.3 L962.4,1488.8 L964.2,1489.3 L966.0,1489.8 L967.8,1490.4 L969.6,1490.9 L971.5,1491.5 L973.3,1492.0 L975.1,1492.5 L976.9,1493.1 L978.7,1493.6 L980.6,1494.2 L982.4,1494.8 L984.2,1495.3 L986.0,1495.9 L987.8,1496.5 L989.7,1497.1 L991.5,1497.7 L993.3,1498.2 L995.1,1498.8 L996.9,1499.4 L998.8,1500.0 L1000.6,1500.6 L1002.4,1501.3 L1004.2,1501.9 L1006.1,1502.5 L1007.9,1503.1 L1009.7,1503.7 L1011.5,1504.4 L1013.3,1505.0 L1015.2,1505.6 L1017.0,1506.3 L1018.8,1506.9 L1020.6,1507.6 L1022.4,1508.2 L1024.3,1508.9 L1026.1,1509.5 L1027.9,1510.2 L1029.7,1510.9 L1031.5,1511.6 L1033.4,1512.2 L1035.2,1512.9 L1037.0,1513.6 L1038.8,1514.3 L1040.6,1515.0 L1042.5,1515.7 L1044.3,1516.4 L1046.1,1517.1 L1047.9,1517.8 L1049.7,1518.5 L1051.6,1519.2 L1053.4,1519.9 L1055.2,1520.7 L1057.0,1521.4 L1058.8,1522.1 L1060.7,1522.9 L1062.5,1523.6 L1064.3,1524.4 L1066.1,1525.1 L1067.9,1525.9 L1069.8,1526.6 L1071.6,1527.4 L1073.4,1528.1 L1075.2,1528.9 L1077.0,1529.7 L1078.9,1530.5 L1080.7,1531.3 L1082.5,1532.0 L1084.3,1532.8 L1086.1,1533.6 L1088.0,1534.4 L1089.8,1535.2 L1091.6,1536.1 L1093.4,1536.9 L1095.2,1537.7 L1097.1,1538.5 L1098.9,1539.4 L1100.7,1540.2 L1102.5,1541.1 L1104.4,1541.9 L1106.2,1542.8 L1108.0,1543.6 L1109.8,1544.5 L1111.6,1545.4 L1113.5,1546.2 L1115.3,1547.1 L1117.1,1548.0 L1118.9,1548.9 L1120.7,1549.8 L1122.6,1550.7 L1124.4,1551.7 L1126.2,1552.6 L1128.0,1553.5 L1129.8,1554.5 L1131.7,1555.4 L1133.5,1556.4 L1135.3,1557.3 L1137.1,1558.3 L1138.9,1559.3 L1140.8,1560.3 L1142.6,1561.3 L1144.4,1562.3 L1146.2,1563.3 L1148.0,1564.3 L1149.9,1565.3 L1151.7,1566.3 L1153.5,1567.4 L1155.3,1568.4 L1157.1,1569.5 L1159.0,1570.5 L1160.8,1571.6 L1162.6,1572.7 L1164.4,1573.8 L1166.2,1574.9 L1168.1,1576.0 L1169.9,1577.1 L1171.7,1578.3 L1173.5,1579.4 L1175.3,1580.5 L1177.2,1581.7 L1179.0,1582.9 L1180.8,1584.0 L1182.6,1585.2 L1184.4,1586.4 L1186.3,1587.6 L1188.1,1588.8 L1189.9,1590.0 L1191.7,1591.3 L1193.5,1592.5 L1195.4,1593.7 L1197.2,1595.0 L1199.0,1596.3 L1200.8,1597.5 L1202.7,1598.8 L1204.5,1600.1 L1206.3,1601.4 L1208.1,1602.7 L1209.9,1604.0 L1211.8,1605.4 L1213.6,1606.7 L1215.4,1608.0 L1217.2,1609.4 L1219.0,1610.8 L1220.9,1612.1 L1222.7,1613.5 L1224.5,1614.9 L1226.3,1616.3 L1228.1,1617.7 L1230.0,1619.1 L1231.8,1620.5 L1233.6,1621.9 L1235.4,1623.4 L1237.2,1624.8 L1239.1,1626.2 L1240.9,1627.7 L1242.7,1629.2 L1244.5,1630.6 L1246.3,1632.1 L1248.2,1633.6 L1250.0,1635.1 L1251.8,1636.6 L1253.6,1638.1 L1255.4,1639.6 L1257.3,1641.1 L1259.1,1642.7 L1260.9,1644.2 L1262.7,1645.7 L1264.5,1647.3 L1266.4,1648.8 L1268.2,1650.4 L1270.0,1652.0 L1271.8,1653.5 L1273.6,1655.1 L1275.5,1656.7 L1277.3,1658.3 L1279.1,1659.9 L1280.9,1661.5 L1282.7,1663.1 L1284.6,1664.7 L1286.4,1666.4 L1288.2,1668.0 L1290.0,1669.6 L1291.9,1671.3 L1293.7,1672.9 L1295.5,1674.6 L1297.3,1676.3 L1299.1,1677.9 L1301.0,1679.6 L1302.8,1681.3 L1304.6,1683.0 L1306.4,1684.7 L1308.2,1686.3 L1310.1,1688.0 L1311.9,1689.8 L1313.7,1691.5 L1315.5,1693.2 L1317.3,1694.9 L1319.2,1696.6 L1321.0,1698.3 L1322.8,1700.1 L1324.6,1701.8 L1326.4,1703.5 L1328.3,1705.3 L1330.1,1707.0 L1331.9,1708.8 L1333.7,1710.5 L1335.5,1712.3 L1337.4,1714.0 L1339.2,1715.8 L1341.0,1717.5 L1342.8,1719.3 L1344.6,1721.0 L1346.5,1722.8 L1348.3,1724.5 L1350.1,1726.3 L1351.9,1728.1 L1353.7,1729.8 L1355.6,1731.6 L1357.4,1733.3 L1359.2,1735.1 L1361.0,1736.8 L1362.8,1738.6 L1364.7,1740.4 L1366.5,1742.1 L1368.3,1743.9 L1370.1,1745.6 L1371.9,1747.4 L1373.8,1749.1 L1375.6,1750.8 L1377.4,1752.6 L1379.2,1754.3 L1381.0,1756.1 L1382.9,1757.8 L1384.7,1759.5 L1386.5,1761.2 L1388.3,1763.0 L1390.2,1764.7 L1392.0,1766.4 L1393.8,1768.1 L1395.6,1769.8 L1397.4,1771.5 L1399.3,1773.2 L1401.1,1774.9 L1402.9,1776.6 L1404.7,1778.2 L1406.5,1779.9 L1408.4,1781.6 L1410.2,1783.2 L1412.0,1784.9 L1413.8,1786.5 L1415.6,1788.2 L1417.5,1789.8 L1419.3,1791.4 L1421.1,1793.0 L1422.9,1794.6 L1424.7,1796.2 L1426.6,1797.8 L1428.4,1799.3 L1430.2,1800.9 L1432.0,1802.5 L1433.8,1804.0 L1435.7,1805.5 L1437.5,1807.0 L1439.3,1808.5 L1441.1,1810.0 L1442.9,1811.5 L1444.8,1813.0 L1446.6,1814.4 L1448.4,1815.8 L1450.2,1817.3 L1452.0,1818.7 L1453.9,1820.1 L1455.7,1821.4 L1457.5,1822.8 L1459.3,1824.1 L1461.1,1825.4 L1463.0,1826.7 L1464.8,1828.0 L1466.6,1829.3 L1468.4,1830.6 L1470.2,1831.8 L1472.1,1833.0 L1473.9,1834.2 L1475.7,1835.4 L1477.5,1836.5 L1479.3,1837.6 L1481.2,1838.7 L1483.0,1839.8 L1484.8,1840.9 L1486.6,1841.9 L1488.5,1842.9 L1490.3,1843.9 L1492.1,1844.9 L1493.9,1845.8 L1495.7,1846.8 L1497.6,1847.6 L1499.4,1848.5 L1501.2,1849.4 L1503.0,1850.2 L1504.8,1851.0 L1506.7,1851.7 L1508.5,1852.4 L1510.3,1853.2 L1512.1,1853.8 L1513.9,1854.5 L1515.8,1855.1 L1517.6,1855.7 L1519.4,1856.3 L1521.2,1856.8 L1523.0,1857.3 L1524.9,1857.8 L1526.7,1858.3 L1528.5,1858.7"/>
<path class="k" stroke-width="2.7" stroke-dasharray="8.4 3.9" d="M256.1,1431.5 L257.9,1431.5 L259.7,1431.5 L261.5,1431.5 L263.3,1431.5 L265.2,1431.5 L267.0,1431.5 L268.8,1431.5 L270.6,1431.5 L272.4,1431.5 L274.3,1431.5 L276.1,1431.5 L277.9,1431.5 L279.7,1431.5 L281.5,1431.5 L283.4,1431.5 L285.2,1431.5 L287.0,1431.5 L288.8,1431.5 L290.6,1431.5 L292.5,1431.5 L294.3,1431.6 L296.1,1431.6 L297.9,1431.6 L299.7,1431.6 L301.6,1431.6 L303.4,1431.7 L305.2,1431.7 L307.0,1431.7 L308.8,1431.7 L310.7,1431.7 L312.5,1431.8 L314.3,1431.8 L316.1,1431.8 L317.9,1431.9 L319.8,1431.9 L321.6,1431.9 L323.4,1432.0 L325.2,1432.0 L327.0,1432.0 L328.9,1432.1 L330.7,1432.1 L332.5,1432.2 L334.3,1432.2 L336.1,1432.3 L338.0,1432.3 L339.8,1432.4 L341.6,1432.4 L343.4,1432.5 L345.3,1432.6 L347.1,1432.6 L348.9,1432.7 L350.7,1432.8 L352.5,1432.9 L354.4,1432.9 L356.2,1433.0 L358.0,1433.1 L359.8,1433.2 L361.6,1433.3 L363.5,1433.4 L365.3,1433.5 L367.1,1433.6 L368.9,1433.7 L370.7,1433.8 L372.6,1433.9 L374.4,1434.0 L376.2,1434.1 L378.0,1434.3 L379.8,1434.4 L381.7,1434.5 L383.5,1434.6 L385.3,1434.8 L387.1,1434.9 L388.9,1435.1 L390.8,1435.2 L392.6,1435.4 L394.4,1435.5 L396.2,1435.7 L398.0,1435.8 L399.9,1436.0 L401.7,1436.2 L403.5,1436.3 L405.3,1436.5 L407.1,1436.7 L409.0,1436.8 L410.8,1437.0 L412.6,1437.2 L414.4,1437.4 L416.2,1437.6 L418.1,1437.8 L419.9,1438.0 L421.7,1438.2 L423.5,1438.4 L425.3,1438.6 L427.2,1438.8 L429.0,1439.0 L430.8,1439.2 L432.6,1439.4 L434.5,1439.6 L436.3,1439.8 L438.1,1440.1 L439.9,1440.3 L441.7,1440.5 L443.6,1440.8 L445.4,1441.0 L447.2,1441.2 L449.0,1441.5 L450.8,1441.7 L452.7,1442.0 L454.5,1442.3 L456.3,1442.5 L458.1,1442.8 L459.9,1443.1 L461.8,1443.3 L463.6,1443.6 L465.4,1443.9 L467.2,1444.2 L469.0,1444.5 L470.9,1444.8 L472.7,1445.1 L474.5,1445.4 L476.3,1445.7 L478.1,1446.0 L480.0,1446.4 L481.8,1446.7 L483.6,1447.0 L485.4,1447.4 L487.2,1447.7 L489.1,1448.1 L490.9,1448.5 L492.7,1448.8 L494.5,1449.2 L496.3,1449.6 L498.2,1450.0 L500.0,1450.4 L501.8,1450.8 L503.6,1451.2 L505.4,1451.7 L507.3,1452.1 L509.1,1452.5 L510.9,1453.0 L512.7,1453.4 L514.5,1453.9 L516.4,1454.4 L518.2,1454.9 L520.0,1455.4 L521.8,1455.9 L523.6,1456.4 L525.5,1456.9 L527.3,1457.4 L529.1,1458.0 L530.9,1458.5 L532.8,1459.1 L534.6,1459.6 L536.4,1460.2 L538.2,1460.8 L540.0,1461.4 L541.9,1462.0 L543.7,1462.6 L545.5,1463.2 L547.3,1463.8 L549.1,1464.5 L551.0,1465.1 L552.8,1465.8 L554.6,1466.5 L556.4,1467.1 L558.2,1467.8 L560.1,1468.5 L561.9,1469.3 L563.7,1470.0 L565.5,1470.7 L567.3,1471.5 L569.2,1472.2 L571.0,1473.0 L572.8,1473.8 L574.6,1474.6 L576.4,1475.4 L578.3,1476.2 L580.1,1477.1 L581.9,1477.9 L583.7,1478.8 L585.5,1479.7 L587.4,1480.6 L589.2,1481.5 L591.0,1482.4 L592.8,1483.4 L594.6,1484.3 L596.5,1485.3 L598.3,1486.3 L600.1,1487.3 L601.9,1488.3 L603.7,1489.4 L605.6,1490.4 L607.4,1491.5 L609.2,1492.6 L611.0,1493.7 L612.8,1494.8 L614.7,1495.9 L616.5,1497.1 L618.3,1498.3 L620.1,1499.5 L621.9,1500.7 L623.8,1501.9 L625.6,1503.1 L627.4,1504.4 L629.2,1505.7 L631.1,1507.0 L632.9,1508.3 L634.7,1509.6 L636.5,1510.9 L638.3,1512.3 L640.2,1513.6 L642.0,1515.0 L643.8,1516.4 L645.6,1517.8 L647.4,1519.3 L649.3,1520.7 L651.1,1522.2 L652.9,1523.7 L654.7,1525.1 L656.5,1526.7 L658.4,1528.2 L660.2,1529.7 L662.0,1531.3 L663.8,1532.9 L665.6,1534.5 L667.5,1536.1 L669.3,1537.8 L671.1,1539.4 L672.9,1541.1 L674.7,1542.8 L676.6,1544.5 L678.4,1546.3 L680.2,1548.1 L682.0,1549.9 L683.8,1551.7 L685.7,1553.6 L687.5,1555.5 L689.3,1557.4 L691.1,1559.3 L692.9,1561.3 L694.8,1563.3 L696.6,1565.4 L698.4,1567.4 L700.2,1569.5 L702.0,1571.7 L703.9,1573.9 L705.7,1576.1 L707.5,1578.3 L709.3,1580.6 L711.1,1582.9 L713.0,1585.3 L714.8,1587.7 L716.6,1590.1 L718.4,1592.6 L720.3,1595.1 L722.1,1597.6 L723.9,1600.2 L725.7,1602.8 L727.5,1605.4 L729.4,1608.1 L731.2,1610.8 L733.0,1613.6 L734.8,1616.4 L736.6,1619.2 L738.5,1622.0 L740.3,1624.9 L742.1,1627.8 L743.9,1630.7 L745.7,1633.7 L747.6,1636.7 L749.4,1639.7 L751.2,1642.7 L753.0,1645.8 L754.8,1648.9 L756.7,1652.1 L758.5,1655.2 L760.3,1658.4 L762.1,1661.6 L763.9,1664.8 L765.8,1668.1 L767.6,1671.4 L769.4,1674.7 L771.2,1678.0 L773.0,1681.4 L774.9,1684.8 L776.7,1688.2 L778.5,1691.6 L780.3,1695.0 L782.1,1698.4 L784.0,1701.9 L785.8,1705.4 L787.6,1708.9 L789.4,1712.4 L791.2,1715.9 L793.1,1719.4 L794.9,1722.9 L796.7,1726.4 L798.5,1729.9 L800.3,1733.4 L802.2,1736.9 L804.0,1740.5 L805.8,1744.0 L807.6,1747.5 L809.4,1751.0 L811.3,1754.4 L813.1,1757.9 L814.9,1761.4 L816.7,1764.8 L818.6,1768.2 L820.4,1771.6 L822.2,1775.0 L824.0,1778.3 L825.8,1781.7 L827.7,1785.0 L829.5,1788.3 L831.3,1791.5 L833.1,1794.7 L834.9,1797.9 L836.8,1801.0 L838.6,1804.1 L840.4,1807.1 L842.2,1810.1 L844.0,1813.0 L845.9,1815.9 L847.7,1818.7 L849.5,1821.5 L851.3,1824.2 L853.1,1826.8 L855.0,1829.4 L856.8,1831.9 L858.6,1834.3 L860.4,1836.6 L862.2,1838.8 L864.1,1841.0 L865.9,1843.0 L867.7,1845.0 L869.5,1846.8 L871.3,1848.6 L873.2,1850.2 L875.0,1851.8 L876.8,1853.2 L878.6,1854.5 L880.4,1855.7 L882.3,1856.9 L884.1,1857.9 L885.9,1858.8 L887.7,1859.6 L889.5,1860.3 L891.4,1860.8 L893.2,1861.3 L895.0,1861.7 L896.8,1861.9 L898.6,1862.1 L900.5,1862.2 L902.3,1862.1 L904.1,1862.0 L905.9,1861.7 L907.7,1861.3 L909.6,1860.9 L911.4,1860.3 L913.2,1859.6 L915.0,1858.9 L916.9,1858.0 L918.7,1857.0 L920.5,1855.9 L922.3,1854.8 L924.1,1853.5 L926.0,1852.1 L927.8,1850.7 L929.6,1849.1 L931.4,1847.5 L933.2,1845.8 L935.1,1844.0 L936.9,1842.1 L938.7,1840.1 L940.5,1838.1 L942.3,1835.9 L944.2,1833.7 L946.0,1831.5 L947.8,1829.1 L949.6,1826.7 L951.4,1824.3 L953.3,1821.7 L955.1,1819.2 L956.9,1816.5 L958.7,1813.8 L960.5,1811.1 L962.4,1808.3 L964.2,1805.5 L966.0,1802.7 L967.8,1799.8 L969.6,1796.8 L971.5,1793.9 L973.3,1790.9 L975.1,1787.9 L976.9,1784.9 L978.7,1781.8 L980.6,1778.8 L982.4,1775.7 L984.2,1772.6 L986.0,1769.5 L987.8,1766.4 L989.7,1763.3 L991.5,1760.1 L993.3,1757.0 L995.1,1753.9 L996.9,1750.8 L998.8,1747.7 L1000.6,1744.5 L1002.4,1741.4 L1004.2,1738.3 L1006.1,1735.2 L1007.9,1732.2 L1009.7,1729.1 L1011.5,1726.0 L1013.3,1723.0 L1015.2,1720.0 L1017.0,1717.0 L1018.8,1714.0 L1020.6,1711.0 L1022.4,1708.0 L1024.3,1705.1 L1026.1,1702.2 L1027.9,1699.3 L1029.7,1696.4 L1031.5,1693.6 L1033.4,1690.8 L1035.2,1688.0 L1037.0,1685.2 L1038.8,1682.4 L1040.6,1679.7 L1042.5,1677.0 L1044.3,1674.4 L1046.1,1671.7 L1047.9,1669.1 L1049.7,1666.5 L1051.6,1664.0 L1053.4,1661.4 L1055.2,1658.9 L1057.0,1656.5 L1058.8,1654.0 L1060.7,1651.6 L1062.5,1649.3 L1064.3,1646.9 L1066.1,1644.6 L1067.9,1642.3 L1069.8,1640.1 L1071.6,1637.9 L1073.4,1635.7 L1075.2,1633.5 L1077.0,1631.4 L1078.9,1629.3 L1080.7,1627.2 L1082.5,1625.2 L1084.3,1623.2 L1086.1,1621.2 L1088.0,1619.3 L1089.8,1617.4 L1091.6,1615.5 L1093.4,1613.6 L1095.2,1611.8 L1097.1,1610.0 L1098.9,1608.2 L1100.7,1606.5 L1102.5,1604.8 L1104.4,1603.1 L1106.2,1601.4 L1108.0,1599.8 L1109.8,1598.1 L1111.6,1596.5 L1113.5,1595.0 L1115.3,1593.4 L1117.1,1591.9 L1118.9,1590.3 L1120.7,1588.8 L1122.6,1587.4 L1124.4,1585.9 L1126.2,1584.5 L1128.0,1583.0 L1129.8,1581.6 L1131.7,1580.3 L1133.5,1578.9 L1135.3,1577.5 L1137.1,1576.2 L1138.9,1574.9 L1140.8,1573.5 L1142.6,1572.3 L1144.4,1571.0 L1146.2,1569.7 L1148.0,1568.4 L1149.9,1567.2 L1151.7,1566.0 L1153.5,1564.8 L1155.3,1563.6 L1157.1,1562.4 L1159.0,1561.2 L1160.8,1560.0 L1162.6,1558.8 L1164.4,1557.7 L1166.2,1556.5 L1168.1,1555.4 L1169.9,1554.3 L1171.7,1553.2 L1173.5,1552.1 L1175.3,1551.0 L1177.2,1549.9 L1179.0,1548.8 L1180.8,1547.7 L1182.6,1546.7 L1184.4,1545.6 L1186.3,1544.6 L1188.1,1543.6 L1189.9,1542.5 L1191.7,1541.5 L1193.5,1540.5 L1195.4,1539.5 L1197.2,1538.5 L1199.0,1537.6 L1200.8,1536.6 L1202.7,1535.6 L1204.5,1534.7 L1206.3,1533.7 L1208.1,1532.8 L1209.9,1531.9 L1211.8,1531.0 L1213.6,1530.1 L1215.4,1529.2 L1217.2,1528.3 L1219.0,1527.5 L1220.9,1526.6 L1222.7,1525.8 L1224.5,1524.9 L1226.3,1524.1 L1228.1,1523.3 L1230.0,1522.5 L1231.8,1521.7 L1233.6,1520.9 L1235.4,1520.2 L1237.2,1519.4 L1239.1,1518.7 L1240.9,1517.9 L1242.7,1517.2 L1244.5,1516.5 L1246.3,1515.8 L1248.2,1515.1 L1250.0,1514.5 L1251.8,1513.8 L1253.6,1513.1 L1255.4,1512.5 L1257.3,1511.9 L1259.1,1511.3 L1260.9,1510.7 L1262.7,1510.1 L1264.5,1509.5 L1266.4,1508.9 L1268.2,1508.3 L1270.0,1507.8 L1271.8,1507.3 L1273.6,1506.7 L1275.5,1506.2 L1277.3,1505.7 L1279.1,1505.2 L1280.9,1504.7 L1282.7,1504.2 L1284.6,1503.8 L1286.4,1503.3 L1288.2,1502.8 L1290.0,1502.4 L1291.9,1502.0 L1293.7,1501.5 L1295.5,1501.1 L1297.3,1500.7 L1299.1,1500.3 L1301.0,1499.9 L1302.8,1499.5 L1304.6,1499.1 L1306.4,1498.8 L1308.2,1498.4 L1310.1,1498.0 L1311.9,1497.7 L1313.7,1497.3 L1315.5,1497.0 L1317.3,1496.6 L1319.2,1496.3 L1321.0,1495.9 L1322.8,1495.6 L1324.6,1495.3 L1326.4,1495.0 L1328.3,1494.7 L1330.1,1494.4 L1331.9,1494.1 L1333.7,1493.8 L1335.5,1493.5 L1337.4,1493.2 L1339.2,1492.9 L1341.0,1492.6 L1342.8,1492.3 L1344.6,1492.0 L1346.5,1491.7 L1348.3,1491.5 L1350.1,1491.2 L1351.9,1490.9 L1353.7,1490.7 L1355.6,1490.4 L1357.4,1490.2 L1359.2,1489.9 L1361.0,1489.7 L1362.8,1489.4 L1364.7,1489.2 L1366.5,1488.9 L1368.3,1488.7 L1370.1,1488.5 L1371.9,1488.2 L1373.8,1488.0 L1375.6,1487.8 L1377.4,1487.6 L1379.2,1487.3 L1381.0,1487.1 L1382.9,1486.9 L1384.7,1486.7 L1386.5,1486.5 L1388.3,1486.3 L1390.2,1486.1 L1392.0,1485.9 L1393.8,1485.7 L1395.6,1485.5 L1397.4,1485.3 L1399.3,1485.1 L1401.1,1484.9 L1402.9,1484.7 L1404.7,1484.5 L1406.5,1484.4 L1408.4,1484.2 L1410.2,1484.0 L1412.0,1483.8 L1413.8,1483.7 L1415.6,1483.5 L1417.5,1483.3 L1419.3,1483.1 L1421.1,1483.0 L1422.9,1482.8 L1424.7,1482.7 L1426.6,1482.5 L1428.4,1482.3 L1430.2,1482.2 L1432.0,1482.0 L1433.8,1481.9 L1435.7,1481.7 L1437.5,1481.6 L1439.3,1481.4 L1441.1,1481.3 L1442.9,1481.1 L1444.8,1481.0 L1446.6,1480.8 L1448.4,1480.7 L1450.2,1480.6 L1452.0,1480.4 L1453.9,1480.3 L1455.7,1480.2 L1457.5,1480.0 L1459.3,1479.9 L1461.1,1479.8 L1463.0,1479.6 L1464.8,1479.5 L1466.6,1479.4 L1468.4,1479.3 L1470.2,1479.1 L1472.1,1479.0 L1473.9,1478.9 L1475.7,1478.8 L1477.5,1478.7 L1479.3,1478.6 L1481.2,1478.4 L1483.0,1478.3 L1484.8,1478.2 L1486.6,1478.1 L1488.5,1478.0 L1490.3,1477.9 L1492.1,1477.8 L1493.9,1477.7 L1495.7,1477.6 L1497.6,1477.5 L1499.4,1477.4 L1501.2,1477.3 L1503.0,1477.2 L1504.8,1477.1 L1506.7,1477.0 L1508.5,1476.9 L1510.3,1476.8 L1512.1,1476.8 L1513.9,1476.7 L1515.8,1476.6 L1517.6,1476.5 L1519.4,1476.4 L1521.2,1476.3 L1523.0,1476.3 L1524.9,1476.2 L1526.7,1476.1 L1528.5,1476.0"/>
<path class="g" stroke-width="3.6" d="M256.1,1431.5 L257.9,1431.5 L259.7,1431.5 L261.5,1431.5 L263.3,1431.5 L265.2,1431.5 L267.0,1431.5 L268.8,1431.6 L270.6,1431.6 L272.4,1431.6 L274.3,1431.7 L276.1,1431.7 L277.9,1431.8 L279.7,1431.8 L281.5,1431.9 L283.4,1432.0 L285.2,1432.0 L287.0,1432.1 L288.8,1432.2 L290.6,1432.3 L292.5,1432.5 L294.3,1432.6 L296.1,1432.7 L297.9,1432.9 L299.7,1433.0 L301.6,1433.2 L303.4,1433.4 L305.2,1433.6 L307.0,1433.8 L308.8,1434.0 L310.7,1434.3 L312.5,1434.5 L314.3,1434.8 L316.1,1435.1 L317.9,1435.4 L319.8,1435.7 L321.6,1436.0 L323.4,1436.3 L325.2,1436.7 L327.0,1437.0 L328.9,1437.4 L330.7,1437.8 L332.5,1438.2 L334.3,1438.6 L336.1,1439.0 L338.0,1439.4 L339.8,1439.9 L341.6,1440.3 L343.4,1440.8 L345.3,1441.3 L347.1,1441.8 L348.9,1442.3 L350.7,1442.8 L352.5,1443.4 L354.4,1443.9 L356.2,1444.5 L358.0,1445.1 L359.8,1445.7 L361.6,1446.4 L363.5,1447.1 L365.3,1447.8 L367.1,1448.5 L368.9,1449.2 L370.7,1450.0 L372.6,1450.8 L374.4,1451.7 L376.2,1452.6 L378.0,1453.5 L379.8,1454.4 L381.7,1455.4 L383.5,1456.4 L385.3,1457.5 L387.1,1458.5 L388.9,1459.7 L390.8,1460.8 L392.6,1462.0 L394.4,1463.2 L396.2,1464.5 L398.0,1465.8 L399.9,1467.2 L401.7,1468.6 L403.5,1470.0 L405.3,1471.5 L407.1,1473.1 L409.0,1474.7 L410.8,1476.3 L412.6,1478.0 L414.4,1479.7 L416.2,1481.6 L418.1,1483.4 L419.9,1485.4 L421.7,1487.4 L423.5,1489.4 L425.3,1491.6 L427.2,1493.8 L429.0,1496.0 L430.8,1498.4 L432.6,1500.8 L434.5,1503.2 L436.3,1505.8 L438.1,1508.3 L439.9,1511.0 L441.7,1513.7 L443.6,1516.5 L445.4,1519.4 L447.2,1522.3 L449.0,1525.2 L450.8,1528.3 L452.7,1531.4 L454.5,1534.6 L456.3,1537.9 L458.1,1541.2 L459.9,1544.6 L461.8,1548.2 L463.6,1551.8 L465.4,1555.6 L467.2,1559.5 L469.0,1563.4 L470.9,1567.6 L472.7,1571.8 L474.5,1576.2 L476.3,1580.8 L478.1,1585.4 L480.0,1590.3 L481.8,1595.2 L483.6,1600.3 L485.4,1605.6 L487.2,1611.0 L489.1,1616.5 L490.9,1622.2 L492.7,1628.0 L494.5,1633.9 L496.3,1639.9 L498.2,1646.0 L500.0,1652.3 L501.8,1658.6 L503.6,1665.0 L505.4,1671.6 L507.3,1678.2 L509.1,1685.0 L510.9,1691.8 L512.7,1698.7 L514.5,1705.6 L516.4,1712.6 L518.2,1719.6 L520.0,1726.6 L521.8,1733.6 L523.6,1740.7 L525.5,1747.7 L527.3,1754.6 L529.1,1761.6 L530.9,1768.4 L532.8,1775.2 L534.6,1781.9 L536.4,1788.5 L538.2,1794.9 L540.0,1801.2 L541.9,1807.3 L543.7,1813.2 L545.5,1818.9 L547.3,1824.4 L549.1,1829.5 L551.0,1834.4 L552.8,1838.9 L554.6,1843.1 L556.4,1846.9 L558.2,1850.3 L560.1,1853.3 L561.9,1855.8 L563.7,1857.9 L565.5,1859.6 L567.3,1860.9 L569.2,1861.7 L571.0,1862.1 L572.8,1862.1 L574.6,1861.7 L576.4,1860.8 L578.3,1859.6 L580.1,1857.9 L581.9,1855.9 L583.7,1853.4 L585.5,1850.6 L587.4,1847.4 L589.2,1843.9 L591.0,1840.0 L592.8,1835.8 L594.6,1831.3 L596.5,1826.6 L598.3,1821.6 L600.1,1816.4 L601.9,1810.9 L603.7,1805.3 L605.6,1799.6 L607.4,1793.7 L609.2,1787.7 L611.0,1781.6 L612.8,1775.5 L614.7,1769.3 L616.5,1763.1 L618.3,1756.8 L620.1,1750.6 L621.9,1744.4 L623.8,1738.1 L625.6,1732.0 L627.4,1725.9 L629.2,1719.8 L631.1,1713.8 L632.9,1707.9 L634.7,1702.0 L636.5,1696.3 L638.3,1690.6 L640.2,1685.0 L642.0,1679.6 L643.8,1674.2 L645.6,1668.9 L647.4,1663.8 L649.3,1658.8 L651.1,1653.9 L652.9,1649.1 L654.7,1644.5 L656.5,1639.9 L658.4,1635.5 L660.2,1631.3 L662.0,1627.1 L663.8,1623.1 L665.6,1619.2 L667.5,1615.4 L669.3,1611.7 L671.1,1608.1 L672.9,1604.7 L674.7,1601.3 L676.6,1598.0 L678.4,1594.9 L680.2,1591.8 L682.0,1588.8 L683.8,1585.8 L685.7,1583.0 L687.5,1580.2 L689.3,1577.4 L691.1,1574.8 L692.9,1572.2 L694.8,1569.6 L696.6,1567.1 L698.4,1564.7 L700.2,1562.3 L702.0,1559.9 L703.9,1557.6 L705.7,1555.3 L707.5,1553.1 L709.3,1550.9 L711.1,1548.8 L713.0,1546.6 L714.8,1544.5 L716.6,1542.5 L718.4,1540.5 L720.3,1538.5 L722.1,1536.5 L723.9,1534.6 L725.7,1532.8 L727.5,1530.9 L729.4,1529.1 L731.2,1527.4 L733.0,1525.7 L734.8,1524.0 L736.6,1522.4 L738.5,1520.9 L740.3,1519.4 L742.1,1517.9 L743.9,1516.5 L745.7,1515.1 L747.6,1513.8 L749.4,1512.5 L751.2,1511.2 L753.0,1510.0 L754.8,1508.9 L756.7,1507.8 L758.5,1506.7 L760.3,1505.7 L762.1,1504.7 L763.9,1503.7 L765.8,1502.8 L767.6,1501.9 L769.4,1501.1 L771.2,1500.3 L773.0,1499.5 L774.9,1498.7 L776.7,1498.0 L778.5,1497.3 L780.3,1496.6 L782.1,1495.9 L784.0,1495.3 L785.8,1494.6 L787.6,1494.0 L789.4,1493.4 L791.2,1492.9 L793.1,1492.3 L794.9,1491.7 L796.7,1491.2 L798.5,1490.7 L800.3,1490.2 L802.2,1489.7 L804.0,1489.2 L805.8,1488.7 L807.6,1488.2 L809.4,1487.8 L811.3,1487.3 L813.1,1486.9 L814.9,1486.5 L816.7,1486.1 L818.6,1485.7 L820.4,1485.3 L822.2,1484.9 L824.0,1484.5 L825.8,1484.2 L827.7,1483.8 L829.5,1483.5 L831.3,1483.1 L833.1,1482.8 L834.9,1482.5 L836.8,1482.2 L838.6,1481.9 L840.4,1481.6 L842.2,1481.3 L844.0,1481.0 L845.9,1480.7 L847.7,1480.4 L849.5,1480.2 L851.3,1479.9 L853.1,1479.6 L855.0,1479.4 L856.8,1479.1 L858.6,1478.9 L860.4,1478.7 L862.2,1478.4 L864.1,1478.2 L865.9,1478.0 L867.7,1477.8 L869.5,1477.6 L871.3,1477.4 L873.2,1477.2 L875.0,1477.0 L876.8,1476.8 L878.6,1476.7 L880.4,1476.5 L882.3,1476.3 L884.1,1476.2 L885.9,1476.0 L887.7,1475.9 L889.5,1475.8 L891.4,1475.6 L893.2,1475.5 L895.0,1475.4 L896.8,1475.3 L898.6,1475.2 L900.5,1475.1 L902.3,1475.0 L904.1,1474.9 L905.9,1474.8 L907.7,1474.7 L909.6,1474.6 L911.4,1474.5 L913.2,1474.5 L915.0,1474.4 L916.9,1474.3 L918.7,1474.3 L920.5,1474.2 L922.3,1474.2 L924.1,1474.1 L926.0,1474.1 L927.8,1474.0 L929.6,1474.0 L931.4,1474.0 L933.2,1473.9 L935.1,1473.9 L936.9,1473.9 L938.7,1473.8 L940.5,1473.8 L942.3,1473.8 L944.2,1473.8 L946.0,1473.7 L947.8,1473.7 L949.6,1473.7 L951.4,1473.7 L953.3,1473.7 L955.1,1473.6 L956.9,1473.6 L958.7,1473.6 L960.5,1473.6 L962.4,1473.6 L964.2,1473.6 L966.0,1473.6 L967.8,1473.6 L969.6,1473.6 L971.5,1473.6 L973.3,1473.5 L975.1,1473.5 L976.9,1473.5 L978.7,1473.5 L980.6,1473.5 L982.4,1473.5 L984.2,1473.5 L986.0,1473.5 L987.8,1473.5 L989.7,1473.5 L991.5,1473.5 L993.3,1473.5 L995.1,1473.5 L996.9,1473.5 L998.8,1473.5 L1000.6,1473.5 L1002.4,1473.5 L1004.2,1473.5 L1006.1,1473.5 L1007.9,1473.5 L1009.7,1473.5 L1011.5,1473.5 L1013.3,1473.5 L1015.2,1473.5 L1017.0,1473.5 L1018.8,1473.5 L1020.6,1473.5 L1022.4,1473.5 L1024.3,1473.5 L1026.1,1473.5 L1027.9,1473.5 L1029.7,1473.5 L1031.5,1473.5 L1033.4,1473.5 L1035.2,1473.5 L1037.0,1473.5 L1038.8,1473.6 L1040.6,1473.6 L1042.5,1473.6 L1044.3,1473.6 L1046.1,1473.6 L1047.9,1473.6 L1049.7,1473.6 L1051.6,1473.6 L1053.4,1473.6 L1055.2,1473.6 L1057.0,1473.6 L1058.8,1473.6 L1060.7,1473.6 L1062.5,1473.6 L1064.3,1473.6 L1066.1,1473.7 L1067.9,1473.7 L1069.8,1473.7 L1071.6,1473.7 L1073.4,1473.7 L1075.2,1473.7 L1077.0,1473.7 L1078.9,1473.7 L1080.7,1473.7 L1082.5,1473.7 L1084.3,1473.7 L1086.1,1473.7 L1088.0,1473.8 L1089.8,1473.8 L1091.6,1473.8 L1093.4,1473.8 L1095.2,1473.8 L1097.1,1473.8 L1098.9,1473.8 L1100.7,1473.8 L1102.5,1473.8 L1104.4,1473.8 L1106.2,1473.9 L1108.0,1473.9 L1109.8,1473.9 L1111.6,1473.9 L1113.5,1473.9 L1115.3,1473.9 L1117.1,1473.9 L1118.9,1473.9 L1120.7,1473.9 L1122.6,1473.9 L1124.4,1474.0 L1126.2,1474.0 L1128.0,1474.0 L1129.8,1474.0 L1131.7,1474.0 L1133.5,1474.0 L1135.3,1474.0 L1137.1,1474.0 L1138.9,1474.0 L1140.8,1474.0 L1142.6,1474.0 L1144.4,1474.1 L1146.2,1474.1 L1148.0,1474.1 L1149.9,1474.1 L1151.7,1474.1 L1153.5,1474.1 L1155.3,1474.1 L1157.1,1474.1 L1159.0,1474.1 L1160.8,1474.1 L1162.6,1474.1 L1164.4,1474.1 L1166.2,1474.2 L1168.1,1474.2 L1169.9,1474.2 L1171.7,1474.2 L1173.5,1474.2 L1175.3,1474.2 L1177.2,1474.2 L1179.0,1474.2 L1180.8,1474.2 L1182.6,1474.2 L1184.4,1474.2 L1186.3,1474.3 L1188.1,1474.3 L1189.9,1474.3 L1191.7,1474.3 L1193.5,1474.3 L1195.4,1474.3 L1197.2,1474.3 L1199.0,1474.3 L1200.8,1474.3 L1202.7,1474.3 L1204.5,1474.3 L1206.3,1474.4 L1208.1,1474.4 L1209.9,1474.4 L1211.8,1474.4 L1213.6,1474.4 L1215.4,1474.4 L1217.2,1474.4 L1219.0,1474.4 L1220.9,1474.4 L1222.7,1474.4 L1224.5,1474.5 L1226.3,1474.5 L1228.1,1474.5 L1230.0,1474.5 L1231.8,1474.5 L1233.6,1474.5 L1235.4,1474.5 L1237.2,1474.5 L1239.1,1474.5 L1240.9,1474.5 L1242.7,1474.6 L1244.5,1474.6 L1246.3,1474.6 L1248.2,1474.6 L1250.0,1474.6 L1251.8,1474.6 L1253.6,1474.6 L1255.4,1474.6 L1257.3,1474.6 L1259.1,1474.6 L1260.9,1474.7 L1262.7,1474.7 L1264.5,1474.7 L1266.4,1474.7 L1268.2,1474.7 L1270.0,1474.7 L1271.8,1474.7 L1273.6,1474.7 L1275.5,1474.7 L1277.3,1474.7 L1279.1,1474.8 L1280.9,1474.8 L1282.7,1474.8 L1284.6,1474.8 L1286.4,1474.8 L1288.2,1474.8 L1290.0,1474.8 L1291.9,1474.8 L1293.7,1474.8 L1295.5,1474.9 L1297.3,1474.9 L1299.1,1474.9 L1301.0,1474.9 L1302.8,1474.9 L1304.6,1474.9 L1306.4,1474.9 L1308.2,1474.9 L1310.1,1474.9 L1311.9,1474.9 L1313.7,1475.0 L1315.5,1475.0 L1317.3,1475.0 L1319.2,1475.0 L1321.0,1475.0 L1322.8,1475.0 L1324.6,1475.0 L1326.4,1475.0 L1328.3,1475.0 L1330.1,1475.0 L1331.9,1475.0 L1333.7,1475.1 L1335.5,1475.1 L1337.4,1475.1 L1339.2,1475.1 L1341.0,1475.1 L1342.8,1475.1 L1344.6,1475.1 L1346.5,1475.1 L1348.3,1475.1 L1350.1,1475.1 L1351.9,1475.1 L1353.7,1475.2 L1355.6,1475.2 L1357.4,1475.2 L1359.2,1475.2 L1361.0,1475.2 L1362.8,1475.2 L1364.7,1475.2 L1366.5,1475.2 L1368.3,1475.2 L1370.1,1475.2 L1371.9,1475.2 L1373.8,1475.3 L1375.6,1475.3 L1377.4,1475.3 L1379.2,1475.3 L1381.0,1475.3 L1382.9,1475.3 L1384.7,1475.3 L1386.5,1475.3 L1388.3,1475.3 L1390.2,1475.3 L1392.0,1475.3 L1393.8,1475.4 L1395.6,1475.4 L1397.4,1475.4 L1399.3,1475.4 L1401.1,1475.4 L1402.9,1475.4 L1404.7,1475.4 L1406.5,1475.4 L1408.4,1475.4 L1410.2,1475.4 L1412.0,1475.4 L1413.8,1475.4 L1415.6,1475.5 L1417.5,1475.5 L1419.3,1475.5 L1421.1,1475.5 L1422.9,1475.5 L1424.7,1475.5 L1426.6,1475.5 L1428.4,1475.5 L1430.2,1475.5 L1432.0,1475.5 L1433.8,1475.5 L1435.7,1475.6 L1437.5,1475.6 L1439.3,1475.6 L1441.1,1475.6 L1442.9,1475.6 L1444.8,1475.6 L1446.6,1475.6 L1448.4,1475.6 L1450.2,1475.6 L1452.0,1475.6 L1453.9,1475.6 L1455.7,1475.6 L1457.5,1475.7 L1459.3,1475.7 L1461.1,1475.7 L1463.0,1475.7 L1464.8,1475.7 L1466.6,1475.7 L1468.4,1475.7 L1470.2,1475.7 L1472.1,1475.7 L1473.9,1475.7 L1475.7,1475.7 L1477.5,1475.8 L1479.3,1475.8 L1481.2,1475.8 L1483.0,1475.8 L1484.8,1475.8 L1486.6,1475.8 L1488.5,1475.8 L1490.3,1475.8 L1492.1,1475.8 L1493.9,1475.8 L1495.7,1475.8 L1497.6,1475.9 L1499.4,1475.9 L1501.2,1475.9 L1503.0,1475.9 L1504.8,1475.9 L1506.7,1475.9 L1508.5,1475.9 L1510.3,1475.9 L1512.1,1475.9 L1513.9,1475.9 L1515.8,1475.9 L1517.6,1476.0 L1519.4,1476.0 L1521.2,1476.0 L1523.0,1476.0 L1524.9,1476.0 L1526.7,1476.0 L1528.5,1476.0"/>
<path class="ax" stroke-width="3.2" d="M243.2,2214.3h13.5 M1528.5,2214.3h-13.5 M243.2,2018.6h13.5 M1528.5,2018.6h-13.5 M243.2,1822.9h13.5 M1528.5,1822.9h-13.5 M243.2,1627.2h13.5 M1528.5,1627.2h-13.5 M243.2,1431.5h13.5 M1528.5,1431.5h-13.5 M500.3,2410.0v-13.5 M500.3,1334.0v13.5 M757.3,2410.0v-13.5 M757.3,1334.0v13.5 M1014.4,2410.0v-13.5 M1014.4,1334.0v13.5 M1271.4,2410.0v-13.5 M1271.4,1334.0v13.5"/>
<rect x="241.5" y="1331" width="1288.60" height="2.30" fill="#9a9a9a"/>
<rect x="241.5" y="2407.2" width="1288.60" height="2.50" fill="#9a9a9a"/>
<rect x="241.5" y="1331" width="3.10" height="1081.40" fill="#000"/>
<rect x="1527" y="1331" width="3.10" height="1081.40" fill="#000"/>
<rect x="241.5" y="1333.3" width="1288.60" height="3.00" fill="#000"/>
<rect x="241.5" y="2409.7" width="1288.60" height="2.70" fill="#000"/>
<text transform="translate(243.2,2484.4) scale(1,1.04)" font-size="58" text-anchor="middle">0</text>
<text transform="translate(500.3,2484.4) scale(1,1.04)" font-size="58" text-anchor="middle">200</text>
<text transform="translate(757.3,2484.4) scale(1,1.04)" font-size="58" text-anchor="middle">400</text>
<text transform="translate(1014.4,2484.4) scale(1,1.04)" font-size="58" text-anchor="middle">600</text>
<text transform="translate(1271.4,2484.4) scale(1,1.04)" font-size="58" text-anchor="middle">800</text>
<text transform="translate(1528.5,2484.4) scale(1,1.04)" font-size="58" text-anchor="middle">1000</text>
<text transform="translate(222.3,2431.3) scale(1,1.04)" font-size="59.5" text-anchor="end">0</text>
<text transform="translate(222.3,2235.6) scale(1,1.04)" font-size="59.5" text-anchor="end">0.2</text>
<text transform="translate(222.3,2039.9) scale(1,1.04)" font-size="59.5" text-anchor="end">0.4</text>
<text transform="translate(222.3,1844.2) scale(1,1.04)" font-size="59.5" text-anchor="end">0.6</text>
<text transform="translate(222.3,1648.5) scale(1,1.04)" font-size="59.5" text-anchor="end">0.8</text>
<text transform="translate(222.3,1452.8) scale(1,1.04)" font-size="59.5" text-anchor="end">1</text>
<text x="885.9" y="2562.4" font-size="58.7" text-anchor="middle">Frequency (Hz)</text>
<text transform="translate(101.7,1870.0) rotate(-90)" font-size="59.6" text-anchor="middle">Reflection coefficient</text>
<text x="1408.5" y="1434" font-size="61" text-anchor="middle">(b)</text>
<path class="r" stroke-width="2.6" d="M1134.3,2178.3H1349"/>
<text x="1372" y="2198.4" font-size="58">d=1</text>
<path class="k" stroke-width="4" stroke-dasharray="8.4 3.9" stroke-dashoffset="9.2" d="M1134.3,2252.2H1349"/>
<text x="1372" y="2273" font-size="58">d=2</text>
<path class="g" stroke-width="3" d="M1134.3,2326.8H1349"/>
<text x="1372" y="2347.7" font-size="58">d=4</text>
</g>
<g id="panel-c">
<path class="r" stroke-width="4.3" d="M237.3,2724.6 L239.2,2724.6 L241.1,2724.6 L243.0,2724.6 L244.8,2724.6 L246.7,2724.7 L248.6,2724.7 L250.5,2724.7 L252.4,2724.7 L254.3,2724.7 L256.1,2724.7 L258.0,2724.7 L259.9,2724.7 L261.8,2724.7 L263.7,2724.7 L265.6,2724.7 L267.5,2724.7 L269.3,2724.7 L271.2,2724.7 L273.1,2724.7 L275.0,2724.8 L276.9,2724.8 L278.8,2724.8 L280.6,2724.8 L282.5,2724.8 L284.4,2724.8 L286.3,2724.8 L288.2,2724.8 L290.1,2724.8 L292.0,2724.9 L293.8,2724.9 L295.7,2724.9 L297.6,2724.9 L299.5,2724.9 L301.4,2724.9 L303.3,2724.9 L305.1,2725.0 L307.0,2725.0 L308.9,2725.0 L310.8,2725.0 L312.7,2725.0 L314.6,2725.0 L316.4,2725.1 L318.3,2725.1 L320.2,2725.1 L322.1,2725.1 L324.0,2725.1 L325.9,2725.2 L327.8,2725.2 L329.6,2725.2 L331.5,2725.2 L333.4,2725.2 L335.3,2725.3 L337.2,2725.3 L339.1,2725.3 L340.9,2725.3 L342.8,2725.4 L344.7,2725.4 L346.6,2725.4 L348.5,2725.4 L350.4,2725.5 L352.3,2725.5 L354.1,2725.5 L356.0,2725.5 L357.9,2725.6 L359.8,2725.6 L361.7,2725.6 L363.6,2725.6 L365.4,2725.7 L367.3,2725.7 L369.2,2725.7 L371.1,2725.8 L373.0,2725.8 L374.9,2725.8 L376.8,2725.9 L378.6,2725.9 L380.5,2725.9 L382.4,2726.0 L384.3,2726.0 L386.2,2726.0 L388.1,2726.1 L389.9,2726.1 L391.8,2726.1 L393.7,2726.2 L395.6,2726.2 L397.5,2726.3 L399.4,2726.3 L401.2,2726.3 L403.1,2726.4 L405.0,2726.4 L406.9,2726.5 L408.8,2726.5 L410.7,2726.6 L412.6,2726.6 L414.4,2726.6 L416.3,2726.7 L418.2,2726.7 L420.1,2726.8 L422.0,2726.8 L423.9,2726.9 L425.7,2726.9 L427.6,2727.0 L429.5,2727.0 L431.4,2727.1 L433.3,2727.1 L435.2,2727.2 L437.1,2727.2 L438.9,2727.3 L440.8,2727.3 L442.7,2727.4 L444.6,2727.4 L446.5,2727.5 L448.4,2727.6 L450.2,2727.6 L452.1,2727.7 L454.0,2727.7 L455.9,2727.8 L457.8,2727.9 L459.7,2727.9 L461.5,2728.0 L463.4,2728.0 L465.3,2728.1 L467.2,2728.2 L469.1,2728.2 L471.0,2728.3 L472.9,2728.4 L474.7,2728.4 L476.6,2728.5 L478.5,2728.6 L480.4,2728.6 L482.3,2728.7 L484.2,2728.8 L486.0,2728.9 L487.9,2728.9 L489.8,2729.0 L491.7,2729.1 L493.6,2729.2 L495.5,2729.3 L497.4,2729.3 L499.2,2729.4 L501.1,2729.5 L503.0,2729.6 L504.9,2729.7 L506.8,2729.7 L508.7,2729.8 L510.5,2729.9 L512.4,2730.0 L514.3,2730.1 L516.2,2730.2 L518.1,2730.3 L520.0,2730.3 L521.8,2730.4 L523.7,2730.5 L525.6,2730.6 L527.5,2730.7 L529.4,2730.8 L531.3,2730.9 L533.2,2731.0 L535.0,2731.1 L536.9,2731.2 L538.8,2731.3 L540.7,2731.4 L542.6,2731.5 L544.5,2731.6 L546.3,2731.7 L548.2,2731.8 L550.1,2731.9 L552.0,2732.0 L553.9,2732.1 L555.8,2732.2 L557.7,2732.3 L559.5,2732.4 L561.4,2732.5 L563.3,2732.6 L565.2,2732.7 L567.1,2732.8 L569.0,2732.9 L570.8,2733.0 L572.7,2733.1 L574.6,2733.2 L576.5,2733.3 L578.4,2733.5 L580.3,2733.6 L582.2,2733.7 L584.0,2733.8 L585.9,2733.9 L587.8,2734.0 L589.7,2734.1 L591.6,2734.3 L593.5,2734.4 L595.3,2734.5 L597.2,2734.6 L599.1,2734.7 L601.0,2734.8 L602.9,2735.0 L604.8,2735.1 L606.6,2735.2 L608.5,2735.3 L610.4,2735.5 L612.3,2735.6 L614.2,2735.7 L616.1,2735.8 L618.0,2736.0 L619.8,2736.1 L621.7,2736.2 L623.6,2736.4 L625.5,2736.5 L627.4,2736.6 L629.3,2736.7 L631.1,2736.9 L633.0,2737.0 L634.9,2737.1 L636.8,2737.3 L638.7,2737.4 L640.6,2737.6 L642.5,2737.7 L644.3,2737.8 L646.2,2738.0 L648.1,2738.1 L650.0,2738.3 L651.9,2738.4 L653.8,2738.5 L655.6,2738.7 L657.5,2738.8 L659.4,2739.0 L661.3,2739.1 L663.2,2739.3 L665.1,2739.4 L666.9,2739.6 L668.8,2739.7 L670.7,2739.9 L672.6,2740.0 L674.5,2740.2 L676.4,2740.3 L678.3,2740.5 L680.1,2740.6 L682.0,2740.8 L683.9,2741.0 L685.8,2741.1 L687.7,2741.3 L689.6,2741.4 L691.4,2741.6 L693.3,2741.8 L695.2,2741.9 L697.1,2742.1 L699.0,2742.3 L700.9,2742.4 L702.8,2742.6 L704.6,2742.8 L706.5,2742.9 L708.4,2743.1 L710.3,2743.3 L712.2,2743.4 L714.1,2743.6 L715.9,2743.8 L717.8,2744.0 L719.7,2744.1 L721.6,2744.3 L723.5,2744.5 L725.4,2744.7 L727.2,2744.8 L729.1,2745.0 L731.0,2745.2 L732.9,2745.4 L734.8,2745.6 L736.7,2745.8 L738.6,2745.9 L740.4,2746.1 L742.3,2746.3 L744.2,2746.5 L746.1,2746.7 L748.0,2746.9 L749.9,2747.1 L751.7,2747.3 L753.6,2747.5 L755.5,2747.7 L757.4,2747.9 L759.3,2748.1 L761.2,2748.3 L763.1,2748.5 L764.9,2748.7 L766.8,2748.9 L768.7,2749.1 L770.6,2749.3 L772.5,2749.5 L774.4,2749.7 L776.2,2749.9 L778.1,2750.1 L780.0,2750.3 L781.9,2750.5 L783.8,2750.7 L785.7,2750.9 L787.5,2751.1 L789.4,2751.3 L791.3,2751.5 L793.2,2751.8 L795.1,2752.0 L797.0,2752.2 L798.9,2752.4 L800.7,2752.6 L802.6,2752.8 L804.5,2753.0 L806.4,2753.2 L808.3,2753.5 L810.2,2753.7 L812.0,2753.9 L813.9,2754.1 L815.8,2754.3 L817.7,2754.5 L819.6,2754.8 L821.5,2755.0 L823.4,2755.2 L825.2,2755.4 L827.1,2755.6 L829.0,2755.9 L830.9,2756.1 L832.8,2756.3 L834.7,2756.5 L836.5,2756.7 L838.4,2757.0 L840.3,2757.2 L842.2,2757.4 L844.1,2757.6 L846.0,2757.9 L847.9,2758.1 L849.7,2758.3 L851.6,2758.5 L853.5,2758.7 L855.4,2759.0 L857.3,2759.2 L859.2,2759.4 L861.0,2759.6 L862.9,2759.9 L864.8,2760.1 L866.7,2760.3 L868.6,2760.5 L870.5,2760.8 L872.3,2761.0 L874.2,2761.2 L876.1,2761.4 L878.0,2761.7 L879.9,2761.9 L881.8,2762.1 L883.7,2762.3 L885.5,2762.6 L887.4,2762.8 L889.3,2763.0 L891.2,2763.2 L893.1,2763.5 L895.0,2763.7 L896.8,2763.9 L898.7,2764.2 L900.6,2764.4 L902.5,2764.6 L904.4,2764.8 L906.3,2765.1 L908.2,2765.3 L910.0,2765.5 L911.9,2765.7 L913.8,2766.0 L915.7,2766.2 L917.6,2766.4 L919.5,2766.7 L921.3,2766.9 L923.2,2767.1 L925.1,2767.3 L927.0,2767.6 L928.9,2767.8 L930.8,2768.0 L932.6,2768.3 L934.5,2768.5 L936.4,2768.7 L938.3,2769.0 L940.2,2769.2 L942.1,2769.4 L944.0,2769.6 L945.8,2769.9 L947.7,2770.1 L949.6,2770.3 L951.5,2770.6 L953.4,2770.8 L955.3,2771.0 L957.1,2771.3 L959.0,2771.5 L960.9,2771.7 L962.8,2771.9 L964.7,2772.2 L966.6,2772.4 L968.5,2772.6 L970.3,2772.9 L972.2,2773.1 L974.1,2773.3 L976.0,2773.6 L977.9,2773.8 L979.8,2774.0 L981.6,2774.3 L983.5,2774.5 L985.4,2774.7 L987.3,2774.9 L989.2,2775.2 L991.1,2775.4 L992.9,2775.6 L994.8,2775.9 L996.7,2776.1 L998.6,2776.3 L1000.5,2776.6 L1002.4,2776.8 L1004.3,2777.0 L1006.1,2777.3 L1008.0,2777.5 L1009.9,2777.7 L1011.8,2777.9 L1013.7,2778.2 L1015.6,2778.4 L1017.4,2778.6 L1019.3,2778.9 L1021.2,2779.1 L1023.1,2779.3 L1025.0,2779.5 L1026.9,2779.8 L1028.8,2780.0 L1030.6,2780.2 L1032.5,2780.5 L1034.4,2780.7 L1036.3,2780.9 L1038.2,2781.1 L1040.1,2781.4 L1041.9,2781.6 L1043.8,2781.8 L1045.7,2782.0 L1047.6,2782.3 L1049.5,2782.5 L1051.4,2782.7 L1053.2,2782.9 L1055.1,2783.2 L1057.0,2783.4 L1058.9,2783.6 L1060.8,2783.8 L1062.7,2784.1 L1064.6,2784.3 L1066.4,2784.5 L1068.3,2784.7 L1070.2,2785.0 L1072.1,2785.2 L1074.0,2785.4 L1075.9,2785.6 L1077.7,2785.8 L1079.6,2786.1 L1081.5,2786.3 L1083.4,2786.5 L1085.3,2786.7 L1087.2,2787.0 L1089.1,2787.2 L1090.9,2787.4 L1092.8,2787.6 L1094.7,2787.8 L1096.6,2788.1 L1098.5,2788.3 L1100.4,2788.5 L1102.2,2788.7 L1104.1,2788.9 L1106.0,2789.1 L1107.9,2789.4 L1109.8,2789.6 L1111.7,2789.8 L1113.6,2790.0 L1115.4,2790.2 L1117.3,2790.5 L1119.2,2790.7 L1121.1,2790.9 L1123.0,2791.1 L1124.9,2791.3 L1126.7,2791.5 L1128.6,2791.7 L1130.5,2792.0 L1132.4,2792.2 L1134.3,2792.4 L1136.2,2792.6 L1138.0,2792.8 L1139.9,2793.0 L1141.8,2793.2 L1143.7,2793.5 L1145.6,2793.7 L1147.5,2793.9 L1149.4,2794.1 L1151.2,2794.3 L1153.1,2794.5 L1155.0,2794.7 L1156.9,2794.9 L1158.8,2795.1 L1160.7,2795.4 L1162.5,2795.6 L1164.4,2795.8 L1166.3,2796.0 L1168.2,2796.2 L1170.1,2796.4 L1172.0,2796.6 L1173.9,2796.8 L1175.7,2797.0 L1177.6,2797.2 L1179.5,2797.4 L1181.4,2797.6 L1183.3,2797.8 L1185.2,2798.0 L1187.0,2798.2 L1188.9,2798.4 L1190.8,2798.6 L1192.7,2798.8 L1194.6,2799.0 L1196.5,2799.2 L1198.3,2799.4 L1200.2,2799.6 L1202.1,2799.8 L1204.0,2800.0 L1205.9,2800.2 L1207.8,2800.4 L1209.7,2800.6 L1211.5,2800.8 L1213.4,2801.0 L1215.3,2801.2 L1217.2,2801.4 L1219.1,2801.6 L1221.0,2801.8 L1222.8,2802.0 L1224.7,2802.2 L1226.6,2802.4 L1228.5,2802.6 L1230.4,2802.8 L1232.3,2802.9 L1234.2,2803.1 L1236.0,2803.3 L1237.9,2803.5 L1239.8,2803.7 L1241.7,2803.9 L1243.6,2804.1 L1245.5,2804.3 L1247.3,2804.5 L1249.2,2804.6 L1251.1,2804.8 L1253.0,2805.0 L1254.9,2805.2 L1256.8,2805.4 L1258.6,2805.6 L1260.5,2805.7 L1262.4,2805.9 L1264.3,2806.1 L1266.2,2806.3 L1268.1,2806.5 L1270.0,2806.6 L1271.8,2806.8 L1273.7,2807.0 L1275.6,2807.2 L1277.5,2807.4 L1279.4,2807.5 L1281.3,2807.7 L1283.1,2807.9 L1285.0,2808.1 L1286.9,2808.2 L1288.8,2808.4 L1290.7,2808.6 L1292.6,2808.8 L1294.5,2808.9 L1296.3,2809.1 L1298.2,2809.3 L1300.1,2809.4 L1302.0,2809.6 L1303.9,2809.8 L1305.8,2809.9 L1307.6,2810.1 L1309.5,2810.3 L1311.4,2810.4 L1313.3,2810.6 L1315.2,2810.8 L1317.1,2810.9 L1319.0,2811.1 L1320.8,2811.3 L1322.7,2811.4 L1324.6,2811.6 L1326.5,2811.7 L1328.4,2811.9 L1330.3,2812.1 L1332.1,2812.2 L1334.0,2812.4 L1335.9,2812.5 L1337.8,2812.7 L1339.7,2812.8 L1341.6,2813.0 L1343.4,2813.2 L1345.3,2813.3 L1347.2,2813.5 L1349.1,2813.6 L1351.0,2813.8 L1352.9,2813.9 L1354.8,2814.1 L1356.6,2814.2 L1358.5,2814.4 L1360.4,2814.5 L1362.3,2814.7 L1364.2,2814.8 L1366.1,2815.0 L1367.9,2815.1 L1369.8,2815.2 L1371.7,2815.4 L1373.6,2815.5 L1375.5,2815.7 L1377.4,2815.8 L1379.3,2816.0 L1381.1,2816.1 L1383.0,2816.2 L1384.9,2816.4 L1386.8,2816.5 L1388.7,2816.6 L1390.6,2816.8 L1392.4,2816.9 L1394.3,2817.0 L1396.2,2817.2 L1398.1,2817.3 L1400.0,2817.4 L1401.9,2817.6 L1403.7,2817.7 L1405.6,2817.8 L1407.5,2818.0 L1409.4,2818.1 L1411.3,2818.2 L1413.2,2818.3 L1415.1,2818.5 L1416.9,2818.6 L1418.8,2818.7 L1420.7,2818.8 L1422.6,2819.0 L1424.5,2819.1 L1426.4,2819.2 L1428.2,2819.3 L1430.1,2819.5 L1432.0,2819.6 L1433.9,2819.7 L1435.8,2819.8 L1437.7,2819.9 L1439.6,2820.0 L1441.4,2820.1 L1443.3,2820.3 L1445.2,2820.4 L1447.1,2820.5 L1449.0,2820.6 L1450.9,2820.7 L1452.7,2820.8 L1454.6,2820.9 L1456.5,2821.0 L1458.4,2821.1 L1460.3,2821.2 L1462.2,2821.3 L1464.0,2821.4 L1465.9,2821.5 L1467.8,2821.7 L1469.7,2821.8 L1471.6,2821.9 L1473.5,2822.0 L1475.4,2822.0 L1477.2,2822.1 L1479.1,2822.2 L1481.0,2822.3 L1482.9,2822.4 L1484.8,2822.5 L1486.7,2822.6 L1488.5,2822.7 L1490.4,2822.8 L1492.3,2822.9 L1494.2,2823.0 L1496.1,2823.1 L1498.0,2823.2 L1499.9,2823.3 L1501.7,2823.3 L1503.6,2823.4 L1505.5,2823.5 L1507.4,2823.6 L1509.3,2823.7 L1511.2,2823.8 L1513.0,2823.8 L1514.9,2823.9 L1516.8,2824.0 L1518.7,2824.1 L1520.6,2824.2 L1522.5,2824.2 L1524.3,2824.3 L1526.2,2824.4 L1528.1,2824.5 L1530.0,2824.5 L1531.9,2824.6 L1533.8,2824.7 L1535.7,2824.8 L1537.5,2824.8 L1539.4,2824.9 L1541.3,2825.0 L1543.2,2825.0 L1545.1,2825.1 L1547.0,2825.2 L1548.8,2825.2 L1550.7,2825.3 L1552.6,2825.4 L1554.5,2825.4"/>
<path class="k" stroke-width="2.8" stroke-dasharray="8.4 3.9" d="M237.3,2724.7 L239.2,2724.7 L241.1,2724.7 L243.0,2724.7 L244.8,2724.7 L246.7,2724.7 L248.6,2724.7 L250.5,2724.8 L252.4,2724.8 L254.3,2724.8 L256.1,2724.8 L258.0,2724.9 L259.9,2724.9 L261.8,2724.9 L263.7,2724.9 L265.6,2725.0 L267.5,2725.0 L269.3,2725.0 L271.2,2725.1 L273.1,2725.1 L275.0,2725.2 L276.9,2725.2 L278.8,2725.2 L280.6,2725.3 L282.5,2725.3 L284.4,2725.4 L286.3,2725.4 L288.2,2725.5 L290.1,2725.5 L292.0,2725.6 L293.8,2725.6 L295.7,2725.7 L297.6,2725.8 L299.5,2725.8 L301.4,2725.9 L303.3,2726.0 L305.1,2726.0 L307.0,2726.1 L308.9,2726.2 L310.8,2726.3 L312.7,2726.3 L314.6,2726.4 L316.4,2726.5 L318.3,2726.6 L320.2,2726.7 L322.1,2726.8 L324.0,2726.9 L325.9,2727.0 L327.8,2727.1 L329.6,2727.2 L331.5,2727.3 L333.4,2727.4 L335.3,2727.5 L337.2,2727.6 L339.1,2727.7 L340.9,2727.9 L342.8,2728.0 L344.7,2728.1 L346.6,2728.2 L348.5,2728.4 L350.4,2728.5 L352.3,2728.7 L354.1,2728.8 L356.0,2728.9 L357.9,2729.1 L359.8,2729.3 L361.7,2729.4 L363.6,2729.6 L365.4,2729.7 L367.3,2729.9 L369.2,2730.1 L371.1,2730.3 L373.0,2730.4 L374.9,2730.6 L376.8,2730.8 L378.6,2731.0 L380.5,2731.2 L382.4,2731.4 L384.3,2731.6 L386.2,2731.8 L388.1,2732.0 L389.9,2732.2 L391.8,2732.4 L393.7,2732.6 L395.6,2732.8 L397.5,2733.0 L399.4,2733.2 L401.2,2733.5 L403.1,2733.7 L405.0,2733.9 L406.9,2734.1 L408.8,2734.4 L410.7,2734.6 L412.6,2734.9 L414.4,2735.1 L416.3,2735.3 L418.2,2735.6 L420.1,2735.8 L422.0,2736.1 L423.9,2736.4 L425.7,2736.6 L427.6,2736.9 L429.5,2737.2 L431.4,2737.4 L433.3,2737.7 L435.2,2738.0 L437.1,2738.3 L438.9,2738.6 L440.8,2738.8 L442.7,2739.1 L444.6,2739.4 L446.5,2739.7 L448.4,2740.0 L450.2,2740.3 L452.1,2740.7 L454.0,2741.0 L455.9,2741.3 L457.8,2741.6 L459.7,2741.9 L461.5,2742.3 L463.4,2742.6 L465.3,2742.9 L467.2,2743.3 L469.1,2743.6 L471.0,2744.0 L472.9,2744.3 L474.7,2744.7 L476.6,2745.0 L478.5,2745.4 L480.4,2745.8 L482.3,2746.1 L484.2,2746.5 L486.0,2746.9 L487.9,2747.3 L489.8,2747.7 L491.7,2748.1 L493.6,2748.5 L495.5,2748.9 L497.4,2749.3 L499.2,2749.7 L501.1,2750.1 L503.0,2750.5 L504.9,2750.9 L506.8,2751.3 L508.7,2751.8 L510.5,2752.2 L512.4,2752.6 L514.3,2753.0 L516.2,2753.5 L518.1,2753.9 L520.0,2754.3 L521.8,2754.8 L523.7,2755.2 L525.6,2755.7 L527.5,2756.1 L529.4,2756.5 L531.3,2757.0 L533.2,2757.4 L535.0,2757.9 L536.9,2758.3 L538.8,2758.8 L540.7,2759.2 L542.6,2759.7 L544.5,2760.1 L546.3,2760.5 L548.2,2761.0 L550.1,2761.4 L552.0,2761.9 L553.9,2762.4 L555.8,2762.8 L557.7,2763.3 L559.5,2763.7 L561.4,2764.2 L563.3,2764.6 L565.2,2765.1 L567.1,2765.5 L569.0,2766.0 L570.8,2766.4 L572.7,2766.9 L574.6,2767.4 L576.5,2767.8 L578.4,2768.3 L580.3,2768.7 L582.2,2769.2 L584.0,2769.7 L585.9,2770.1 L587.8,2770.6 L589.7,2771.0 L591.6,2771.5 L593.5,2772.0 L595.3,2772.4 L597.2,2772.9 L599.1,2773.3 L601.0,2773.8 L602.9,2774.3 L604.8,2774.7 L606.6,2775.2 L608.5,2775.7 L610.4,2776.1 L612.3,2776.6 L614.2,2777.0 L616.1,2777.5 L618.0,2778.0 L619.8,2778.4 L621.7,2778.9 L623.6,2779.3 L625.5,2779.8 L627.4,2780.2 L629.3,2780.7 L631.1,2781.1 L633.0,2781.6 L634.9,2782.1 L636.8,2782.5 L638.7,2783.0 L640.6,2783.4 L642.5,2783.9 L644.3,2784.3 L646.2,2784.7 L648.1,2785.2 L650.0,2785.6 L651.9,2786.1 L653.8,2786.5 L655.6,2787.0 L657.5,2787.4 L659.4,2787.8 L661.3,2788.3 L663.2,2788.7 L665.1,2789.2 L666.9,2789.6 L668.8,2790.0 L670.7,2790.5 L672.6,2790.9 L674.5,2791.3 L676.4,2791.8 L678.3,2792.2 L680.1,2792.6 L682.0,2793.0 L683.9,2793.5 L685.8,2793.9 L687.7,2794.3 L689.6,2794.7 L691.4,2795.2 L693.3,2795.6 L695.2,2796.0 L697.1,2796.4 L699.0,2796.8 L700.9,2797.2 L702.8,2797.6 L704.6,2798.0 L706.5,2798.5 L708.4,2798.9 L710.3,2799.3 L712.2,2799.7 L714.1,2800.1 L715.9,2800.4 L717.8,2800.8 L719.7,2801.2 L721.6,2801.6 L723.5,2802.0 L725.4,2802.4 L727.2,2802.8 L729.1,2803.2 L731.0,2803.5 L732.9,2803.9 L734.8,2804.3 L736.7,2804.6 L738.6,2805.0 L740.4,2805.4 L742.3,2805.8 L744.2,2806.1 L746.1,2806.5 L748.0,2806.8 L749.9,2807.2 L751.7,2807.5 L753.6,2807.9 L755.5,2808.2 L757.4,2808.6 L759.3,2808.9 L761.2,2809.3 L763.1,2809.6 L764.9,2810.0 L766.8,2810.3 L768.7,2810.6 L770.6,2810.9 L772.5,2811.3 L774.4,2811.6 L776.2,2811.9 L778.1,2812.2 L780.0,2812.5 L781.9,2812.9 L783.8,2813.2 L785.7,2813.5 L787.5,2813.8 L789.4,2814.1 L791.3,2814.4 L793.2,2814.7 L795.1,2815.0 L797.0,2815.2 L798.9,2815.5 L800.7,2815.8 L802.6,2816.1 L804.5,2816.4 L806.4,2816.7 L808.3,2816.9 L810.2,2817.2 L812.0,2817.5 L813.9,2817.7 L815.8,2818.0 L817.7,2818.2 L819.6,2818.5 L821.5,2818.7 L823.4,2819.0 L825.2,2819.2 L827.1,2819.5 L829.0,2819.7 L830.9,2819.9 L832.8,2820.2 L834.7,2820.4 L836.5,2820.6 L838.4,2820.8 L840.3,2821.0 L842.2,2821.2 L844.1,2821.5 L846.0,2821.7 L847.9,2821.9 L849.7,2822.1 L851.6,2822.2 L853.5,2822.4 L855.4,2822.6 L857.3,2822.8 L859.2,2823.0 L861.0,2823.2 L862.9,2823.3 L864.8,2823.5 L866.7,2823.7 L868.6,2823.8 L870.5,2824.0 L872.3,2824.2 L874.2,2824.3 L876.1,2824.5 L878.0,2824.6 L879.9,2824.8 L881.8,2824.9 L883.7,2825.0 L885.5,2825.2 L887.4,2825.3 L889.3,2825.4 L891.2,2825.6 L893.1,2825.7 L895.0,2825.8 L896.8,2825.9 L898.7,2826.1 L900.6,2826.2 L902.5,2826.3 L904.4,2826.4 L906.3,2826.5 L908.2,2826.6 L910.0,2826.7 L911.9,2826.8 L913.8,2826.9 L915.7,2827.0 L917.6,2827.1 L919.5,2827.2 L921.3,2827.3 L923.2,2827.4 L925.1,2827.5 L927.0,2827.6 L928.9,2827.7 L930.8,2827.8 L932.6,2827.9 L934.5,2828.0 L936.4,2828.0 L938.3,2828.1 L940.2,2828.2 L942.1,2828.3 L944.0,2828.4 L945.8,2828.4 L947.7,2828.5 L949.6,2828.6 L951.5,2828.7 L953.4,2828.8 L955.3,2828.8 L957.1,2828.9 L959.0,2829.0 L960.9,2829.1 L962.8,2829.2 L964.7,2829.2 L966.6,2829.3 L968.5,2829.4 L970.3,2829.5 L972.2,2829.5 L974.1,2829.6 L976.0,2829.7 L977.9,2829.8 L979.8,2829.9 L981.6,2829.9 L983.5,2830.0 L985.4,2830.1 L987.3,2830.2 L989.2,2830.3 L991.1,2830.4 L992.9,2830.4 L994.8,2830.5 L996.7,2830.6 L998.6,2830.7 L1000.5,2830.8 L1002.4,2830.9 L1004.3,2831.0 L1006.1,2831.1 L1008.0,2831.2 L1009.9,2831.3 L1011.8,2831.4 L1013.7,2831.5 L1015.6,2831.6 L1017.4,2831.7 L1019.3,2831.8 L1021.2,2831.9 L1023.1,2832.0 L1025.0,2832.1 L1026.9,2832.2 L1028.8,2832.3 L1030.6,2832.4 L1032.5,2832.5 L1034.4,2832.6 L1036.3,2832.8 L1038.2,2832.9 L1040.1,2833.0 L1041.9,2833.1 L1043.8,2833.3 L1045.7,2833.4 L1047.6,2833.5 L1049.5,2833.6 L1051.4,2833.8 L1053.2,2833.9 L1055.1,2834.0 L1057.0,2834.2 L1058.9,2834.3 L1060.8,2834.5 L1062.7,2834.6 L1064.6,2834.7 L1066.4,2834.9 L1068.3,2835.0 L1070.2,2835.2 L1072.1,2835.3 L1074.0,2835.5 L1075.9,2835.7 L1077.7,2835.8 L1079.6,2836.0 L1081.5,2836.1 L1083.4,2836.3 L1085.3,2836.5 L1087.2,2836.6 L1089.1,2836.8 L1090.9,2837.0 L1092.8,2837.2 L1094.7,2837.3 L1096.6,2837.5 L1098.5,2837.7 L1100.4,2837.9 L1102.2,2838.1 L1104.1,2838.3 L1106.0,2838.5 L1107.9,2838.7 L1109.8,2838.9 L1111.7,2839.1 L1113.6,2839.3 L1115.4,2839.5 L1117.3,2839.7 L1119.2,2839.9 L1121.1,2840.1 L1123.0,2840.3 L1124.9,2840.6 L1126.7,2840.8 L1128.6,2841.0 L1130.5,2841.2 L1132.4,2841.5 L1134.3,2841.7 L1136.2,2841.9 L1138.0,2842.2 L1139.9,2842.4 L1141.8,2842.7 L1143.7,2842.9 L1145.6,2843.2 L1147.5,2843.4 L1149.4,2843.7 L1151.2,2844.0 L1153.1,2844.2 L1155.0,2844.5 L1156.9,2844.8 L1158.8,2845.1 L1160.7,2845.3 L1162.5,2845.6 L1164.4,2845.9 L1166.3,2846.2 L1168.2,2846.5 L1170.1,2846.8 L1172.0,2847.1 L1173.9,2847.4 L1175.7,2847.7 L1177.6,2848.0 L1179.5,2848.4 L1181.4,2848.7 L1183.3,2849.0 L1185.2,2849.3 L1187.0,2849.7 L1188.9,2850.0 L1190.8,2850.3 L1192.7,2850.7 L1194.6,2851.0 L1196.5,2851.4 L1198.3,2851.7 L1200.2,2852.1 L1202.1,2852.4 L1204.0,2852.8 L1205.9,2853.1 L1207.8,2853.5 L1209.7,2853.9 L1211.5,2854.3 L1213.4,2854.6 L1215.3,2855.0 L1217.2,2855.4 L1219.1,2855.8 L1221.0,2856.2 L1222.8,2856.5 L1224.7,2856.9 L1226.6,2857.3 L1228.5,2857.7 L1230.4,2858.1 L1232.3,2858.5 L1234.2,2858.9 L1236.0,2859.4 L1237.9,2859.8 L1239.8,2860.2 L1241.7,2860.6 L1243.6,2861.0 L1245.5,2861.4 L1247.3,2861.9 L1249.2,2862.3 L1251.1,2862.7 L1253.0,2863.2 L1254.9,2863.6 L1256.8,2864.0 L1258.6,2864.5 L1260.5,2864.9 L1262.4,2865.4 L1264.3,2865.8 L1266.2,2866.3 L1268.1,2866.7 L1270.0,2867.2 L1271.8,2867.6 L1273.7,2868.1 L1275.6,2868.6 L1277.5,2869.0 L1279.4,2869.5 L1281.3,2870.0 L1283.1,2870.5 L1285.0,2871.0 L1286.9,2871.4 L1288.8,2871.9 L1290.7,2872.4 L1292.6,2872.9 L1294.5,2873.4 L1296.3,2874.0 L1298.2,2874.5 L1300.1,2875.0 L1302.0,2875.5 L1303.9,2876.1 L1305.8,2876.6 L1307.6,2877.1 L1309.5,2877.7 L1311.4,2878.2 L1313.3,2878.8 L1315.2,2879.3 L1317.1,2879.9 L1319.0,2880.5 L1320.8,2881.0 L1322.7,2881.6 L1324.6,2882.2 L1326.5,2882.8 L1328.4,2883.4 L1330.3,2884.0 L1332.1,2884.6 L1334.0,2885.2 L1335.9,2885.8 L1337.8,2886.4 L1339.7,2887.0 L1341.6,2887.6 L1343.4,2888.2 L1345.3,2888.8 L1347.2,2889.4 L1349.1,2890.1 L1351.0,2890.7 L1352.9,2891.3 L1354.8,2891.9 L1356.6,2892.6 L1358.5,2893.2 L1360.4,2893.8 L1362.3,2894.5 L1364.2,2895.1 L1366.1,2895.7 L1367.9,2896.4 L1369.8,2897.0 L1371.7,2897.6 L1373.6,2898.3 L1375.5,2898.9 L1377.4,2899.5 L1379.3,2900.1 L1381.1,2900.8 L1383.0,2901.4 L1384.9,2902.0 L1386.8,2902.6 L1388.7,2903.2 L1390.6,2903.8 L1392.4,2904.5 L1394.3,2905.1 L1396.2,2905.7 L1398.1,2906.3 L1400.0,2906.9 L1401.9,2907.5 L1403.7,2908.1 L1405.6,2908.7 L1407.5,2909.3 L1409.4,2909.9 L1411.3,2910.5 L1413.2,2911.1 L1415.1,2911.7 L1416.9,2912.3 L1418.8,2912.9 L1420.7,2913.5 L1422.6,2914.0 L1424.5,2914.6 L1426.4,2915.2 L1428.2,2915.8 L1430.1,2916.4 L1432.0,2917.0 L1433.9,2917.6 L1435.8,2918.1 L1437.7,2918.7 L1439.6,2919.3 L1441.4,2919.9 L1443.3,2920.4 L1445.2,2921.0 L1447.1,2921.6 L1449.0,2922.2 L1450.9,2922.7 L1452.7,2923.3 L1454.6,2923.9 L1456.5,2924.5 L1458.4,2925.0 L1460.3,2925.6 L1462.2,2926.2 L1464.0,2926.7 L1465.9,2927.3 L1467.8,2927.9 L1469.7,2928.4 L1471.6,2929.0 L1473.5,2929.6 L1475.4,2930.1 L1477.2,2930.7 L1479.1,2931.3 L1481.0,2931.8 L1482.9,2932.4 L1484.8,2932.9 L1486.7,2933.5 L1488.5,2934.1 L1490.4,2934.6 L1492.3,2935.2 L1494.2,2935.8 L1496.1,2936.3 L1498.0,2936.9 L1499.9,2937.4 L1501.7,2938.0 L1503.6,2938.6 L1505.5,2939.1 L1507.4,2939.7 L1509.3,2940.2 L1511.2,2940.8 L1513.0,2941.3 L1514.9,2941.9 L1516.8,2942.4 L1518.7,2943.0 L1520.6,2943.5 L1522.5,2944.0 L1524.3,2944.6 L1526.2,2945.1 L1528.1,2945.7 L1530.0,2946.2 L1531.9,2946.7 L1533.8,2947.2 L1535.7,2947.8 L1537.5,2948.3 L1539.4,2948.8 L1541.3,2949.3 L1543.2,2949.8 L1545.1,2950.3 L1547.0,2950.8 L1548.8,2951.3 L1550.7,2951.8 L1552.6,2952.3 L1554.5,2952.8"/>
<path class="g" stroke-width="3.6" d="M237.3,2724.8 L239.2,2724.8 L241.1,2724.9 L243.0,2724.9 L244.8,2725.0 L246.7,2725.0 L248.6,2725.1 L250.5,2725.2 L252.4,2725.3 L254.3,2725.4 L256.1,2725.5 L258.0,2725.6 L259.9,2725.7 L261.8,2725.8 L263.7,2726.0 L265.6,2726.1 L267.5,2726.3 L269.3,2726.4 L271.2,2726.6 L273.1,2726.8 L275.0,2727.0 L276.9,2727.2 L278.8,2727.4 L280.6,2727.6 L282.5,2727.9 L284.4,2728.1 L286.3,2728.4 L288.2,2728.7 L290.1,2729.0 L292.0,2729.3 L293.8,2729.6 L295.7,2729.9 L297.6,2730.3 L299.5,2730.6 L301.4,2731.0 L303.3,2731.4 L305.1,2731.8 L307.0,2732.2 L308.9,2732.6 L310.8,2733.0 L312.7,2733.5 L314.6,2733.9 L316.4,2734.4 L318.3,2734.9 L320.2,2735.4 L322.1,2735.9 L324.0,2736.4 L325.9,2736.9 L327.8,2737.4 L329.6,2738.0 L331.5,2738.6 L333.4,2739.2 L335.3,2739.8 L337.2,2740.4 L339.1,2741.0 L340.9,2741.6 L342.8,2742.3 L344.7,2743.0 L346.6,2743.6 L348.5,2744.3 L350.4,2745.1 L352.3,2745.8 L354.1,2746.5 L356.0,2747.3 L357.9,2748.1 L359.8,2748.9 L361.7,2749.7 L363.6,2750.5 L365.4,2751.4 L367.3,2752.2 L369.2,2753.1 L371.1,2753.9 L373.0,2754.8 L374.9,2755.7 L376.8,2756.6 L378.6,2757.4 L380.5,2758.3 L382.4,2759.2 L384.3,2760.1 L386.2,2761.0 L388.1,2761.9 L389.9,2762.8 L391.8,2763.7 L393.7,2764.6 L395.6,2765.6 L397.5,2766.5 L399.4,2767.4 L401.2,2768.3 L403.1,2769.2 L405.0,2770.1 L406.9,2771.1 L408.8,2772.0 L410.7,2772.9 L412.6,2773.8 L414.4,2774.8 L416.3,2775.7 L418.2,2776.6 L420.1,2777.5 L422.0,2778.4 L423.9,2779.4 L425.7,2780.3 L427.6,2781.2 L429.5,2782.1 L431.4,2783.0 L433.3,2783.9 L435.2,2784.8 L437.1,2785.7 L438.9,2786.6 L440.8,2787.4 L442.7,2788.3 L444.6,2789.2 L446.5,2790.1 L448.4,2790.9 L450.2,2791.8 L452.1,2792.6 L454.0,2793.5 L455.9,2794.3 L457.8,2795.2 L459.7,2796.0 L461.5,2796.8 L463.4,2797.7 L465.3,2798.5 L467.2,2799.3 L469.1,2800.1 L471.0,2800.9 L472.9,2801.6 L474.7,2802.4 L476.6,2803.2 L478.5,2803.9 L480.4,2804.7 L482.3,2805.4 L484.2,2806.1 L486.0,2806.9 L487.9,2807.6 L489.8,2808.3 L491.7,2809.0 L493.6,2809.6 L495.5,2810.3 L497.4,2811.0 L499.2,2811.6 L501.1,2812.2 L503.0,2812.9 L504.9,2813.5 L506.8,2814.1 L508.7,2814.7 L510.5,2815.3 L512.4,2815.8 L514.3,2816.4 L516.2,2816.9 L518.1,2817.5 L520.0,2818.0 L521.8,2818.5 L523.7,2819.0 L525.6,2819.5 L527.5,2819.9 L529.4,2820.4 L531.3,2820.8 L533.2,2821.3 L535.0,2821.7 L536.9,2822.1 L538.8,2822.5 L540.7,2822.8 L542.6,2823.2 L544.5,2823.5 L546.3,2823.9 L548.2,2824.2 L550.1,2824.5 L552.0,2824.8 L553.9,2825.1 L555.8,2825.3 L557.7,2825.6 L559.5,2825.8 L561.4,2826.1 L563.3,2826.3 L565.2,2826.5 L567.1,2826.7 L569.0,2826.9 L570.8,2827.1 L572.7,2827.3 L574.6,2827.5 L576.5,2827.7 L578.4,2827.9 L580.3,2828.0 L582.2,2828.2 L584.0,2828.4 L585.9,2828.5 L587.8,2828.7 L589.7,2828.8 L591.6,2829.0 L593.5,2829.2 L595.3,2829.3 L597.2,2829.5 L599.1,2829.6 L601.0,2829.8 L602.9,2830.0 L604.8,2830.1 L606.6,2830.3 L608.5,2830.5 L610.4,2830.6 L612.3,2830.8 L614.2,2831.0 L616.1,2831.2 L618.0,2831.4 L619.8,2831.6 L621.7,2831.8 L623.6,2832.0 L625.5,2832.2 L627.4,2832.4 L629.3,2832.7 L631.1,2832.9 L633.0,2833.1 L634.9,2833.4 L636.8,2833.6 L638.7,2833.9 L640.6,2834.2 L642.5,2834.5 L644.3,2834.8 L646.2,2835.1 L648.1,2835.4 L650.0,2835.7 L651.9,2836.0 L653.8,2836.3 L655.6,2836.7 L657.5,2837.0 L659.4,2837.4 L661.3,2837.7 L663.2,2838.1 L665.1,2838.5 L666.9,2838.9 L668.8,2839.3 L670.7,2839.7 L672.6,2840.1 L674.5,2840.6 L676.4,2841.0 L678.3,2841.5 L680.1,2842.0 L682.0,2842.4 L683.9,2842.9 L685.8,2843.5 L687.7,2844.0 L689.6,2844.5 L691.4,2845.1 L693.3,2845.7 L695.2,2846.2 L697.1,2846.8 L699.0,2847.4 L700.9,2848.1 L702.8,2848.7 L704.6,2849.4 L706.5,2850.0 L708.4,2850.7 L710.3,2851.4 L712.2,2852.1 L714.1,2852.8 L715.9,2853.5 L717.8,2854.3 L719.7,2855.0 L721.6,2855.8 L723.5,2856.6 L725.4,2857.4 L727.2,2858.2 L729.1,2859.0 L731.0,2859.8 L732.9,2860.6 L734.8,2861.5 L736.7,2862.3 L738.6,2863.2 L740.4,2864.1 L742.3,2864.9 L744.2,2865.8 L746.1,2866.7 L748.0,2867.7 L749.9,2868.6 L751.7,2869.5 L753.6,2870.5 L755.5,2871.5 L757.4,2872.5 L759.3,2873.5 L761.2,2874.5 L763.1,2875.6 L764.9,2876.6 L766.8,2877.7 L768.7,2878.8 L770.6,2879.9 L772.5,2881.1 L774.4,2882.2 L776.2,2883.4 L778.1,2884.6 L780.0,2885.8 L781.9,2887.0 L783.8,2888.2 L785.7,2889.5 L787.5,2890.7 L789.4,2892.0 L791.3,2893.2 L793.2,2894.5 L795.1,2895.8 L797.0,2897.0 L798.9,2898.3 L800.7,2899.6 L802.6,2900.8 L804.5,2902.0 L806.4,2903.3 L808.3,2904.5 L810.2,2905.7 L812.0,2906.9 L813.9,2908.1 L815.8,2909.3 L817.7,2910.5 L819.6,2911.7 L821.5,2912.9 L823.4,2914.1 L825.2,2915.3 L827.1,2916.4 L829.0,2917.6 L830.9,2918.7 L832.8,2919.9 L834.7,2921.1 L836.5,2922.2 L838.4,2923.3 L840.3,2924.5 L842.2,2925.6 L844.1,2926.8 L846.0,2927.9 L847.9,2929.0 L849.7,2930.2 L851.6,2931.3 L853.5,2932.4 L855.4,2933.5 L857.3,2934.7 L859.2,2935.8 L861.0,2936.9 L862.9,2938.0 L864.8,2939.1 L866.7,2940.3 L868.6,2941.4 L870.5,2942.5 L872.3,2943.5 L874.2,2944.6 L876.1,2945.7 L878.0,2946.7 L879.9,2947.8 L881.8,2948.8 L883.7,2949.8 L885.5,2950.8 L887.4,2951.8 L889.3,2952.8 L891.2,2953.8 L893.1,2954.7 L895.0,2955.6 L896.8,2956.5 L898.7,2957.4 L900.6,2958.3 L902.5,2959.2 L904.4,2960.0 L906.3,2960.8 L908.2,2961.6 L910.0,2962.4 L911.9,2963.2 L913.8,2964.0 L915.7,2964.7 L917.6,2965.5 L919.5,2966.2 L921.3,2966.9 L923.2,2967.6 L925.1,2968.3 L927.0,2968.9 L928.9,2969.5 L930.8,2970.2 L932.6,2970.7 L934.5,2971.3 L936.4,2971.9 L938.3,2972.4 L940.2,2972.9 L942.1,2973.4 L944.0,2973.9 L945.8,2974.4 L947.7,2974.8 L949.6,2975.3 L951.5,2975.7 L953.4,2976.1 L955.3,2976.4 L957.1,2976.8 L959.0,2977.1 L960.9,2977.5 L962.8,2977.8 L964.7,2978.1 L966.6,2978.3 L968.5,2978.6 L970.3,2978.8 L972.2,2979.1 L974.1,2979.3 L976.0,2979.5 L977.9,2979.6 L979.8,2979.8 L981.6,2979.9 L983.5,2980.1 L985.4,2980.2 L987.3,2980.3 L989.2,2980.4 L991.1,2980.4 L992.9,2980.5 L994.8,2980.5 L996.7,2980.5 L998.6,2980.5 L1000.5,2980.5 L1002.4,2980.5 L1004.3,2980.5 L1006.1,2980.5 L1008.0,2980.4 L1009.9,2980.4 L1011.8,2980.3 L1013.7,2980.3 L1015.6,2980.2 L1017.4,2980.1 L1019.3,2980.0 L1021.2,2979.9 L1023.1,2979.8 L1025.0,2979.7 L1026.9,2979.6 L1028.8,2979.5 L1030.6,2979.4 L1032.5,2979.3 L1034.4,2979.2 L1036.3,2979.1 L1038.2,2979.0 L1040.1,2978.9 L1041.9,2978.8 L1043.8,2978.7 L1045.7,2978.6 L1047.6,2978.6 L1049.5,2978.5 L1051.4,2978.4 L1053.2,2978.3 L1055.1,2978.3 L1057.0,2978.2 L1058.9,2978.2 L1060.8,2978.1 L1062.7,2978.1 L1064.6,2978.0 L1066.4,2978.0 L1068.3,2978.0 L1070.2,2978.0 L1072.1,2978.0 L1074.0,2978.0 L1075.9,2978.1 L1077.7,2978.1 L1079.6,2978.2 L1081.5,2978.2 L1083.4,2978.3 L1085.3,2978.4 L1087.2,2978.5 L1089.1,2978.6 L1090.9,2978.8 L1092.8,2978.9 L1094.7,2979.1 L1096.6,2979.3 L1098.5,2979.5 L1100.4,2979.7 L1102.2,2979.9 L1104.1,2980.1 L1106.0,2980.4 L1107.9,2980.7 L1109.8,2981.0 L1111.7,2981.3 L1113.6,2981.6 L1115.4,2981.9 L1117.3,2982.3 L1119.2,2982.6 L1121.1,2983.0 L1123.0,2983.4 L1124.9,2983.8 L1126.7,2984.3 L1128.6,2984.7 L1130.5,2985.2 L1132.4,2985.7 L1134.3,2986.2 L1136.2,2986.7 L1138.0,2987.2 L1139.9,2987.8 L1141.8,2988.3 L1143.7,2988.9 L1145.6,2989.5 L1147.5,2990.1 L1149.4,2990.8 L1151.2,2991.4 L1153.1,2992.1 L1155.0,2992.8 L1156.9,2993.5 L1158.8,2994.2 L1160.7,2994.9 L1162.5,2995.7 L1164.4,2996.5 L1166.3,2997.3 L1168.2,2998.1 L1170.1,2998.9 L1172.0,2999.7 L1173.9,3000.6 L1175.7,3001.4 L1177.6,3002.3 L1179.5,3003.2 L1181.4,3004.2 L1183.3,3005.1 L1185.2,3006.0 L1187.0,3007.0 L1188.9,3008.0 L1190.8,3008.9 L1192.7,3010.0 L1194.6,3011.0 L1196.5,3012.0 L1198.3,3013.0 L1200.2,3014.1 L1202.1,3015.2 L1204.0,3016.2 L1205.9,3017.3 L1207.8,3018.4 L1209.7,3019.5 L1211.5,3020.7 L1213.4,3021.8 L1215.3,3022.9 L1217.2,3024.1 L1219.1,3025.2 L1221.0,3026.4 L1222.8,3027.6 L1224.7,3028.8 L1226.6,3029.9 L1228.5,3031.1 L1230.4,3032.3 L1232.3,3033.5 L1234.2,3034.7 L1236.0,3036.0 L1237.9,3037.2 L1239.8,3038.4 L1241.7,3039.6 L1243.6,3040.9 L1245.5,3042.1 L1247.3,3043.3 L1249.2,3044.6 L1251.1,3045.8 L1253.0,3047.0 L1254.9,3048.3 L1256.8,3049.5 L1258.6,3050.8 L1260.5,3052.0 L1262.4,3053.3 L1264.3,3054.5 L1266.2,3055.7 L1268.1,3057.0 L1270.0,3058.2 L1271.8,3059.4 L1273.7,3060.6 L1275.6,3061.8 L1277.5,3063.0 L1279.4,3064.2 L1281.3,3065.4 L1283.1,3066.6 L1285.0,3067.7 L1286.9,3068.8 L1288.8,3069.9 L1290.7,3071.0 L1292.6,3072.1 L1294.5,3073.2 L1296.3,3074.2 L1298.2,3075.3 L1300.1,3076.3 L1302.0,3077.3 L1303.9,3078.2 L1305.8,3079.2 L1307.6,3080.2 L1309.5,3081.1 L1311.4,3082.0 L1313.3,3082.9 L1315.2,3083.8 L1317.1,3084.6 L1319.0,3085.5 L1320.8,3086.3 L1322.7,3087.1 L1324.6,3087.9 L1326.5,3088.7 L1328.4,3089.4 L1330.3,3090.1 L1332.1,3090.8 L1334.0,3091.5 L1335.9,3092.2 L1337.8,3092.8 L1339.7,3093.4 L1341.6,3094.0 L1343.4,3094.5 L1345.3,3095.0 L1347.2,3095.5 L1349.1,3096.0 L1351.0,3096.4 L1352.9,3096.8 L1354.8,3097.2 L1356.6,3097.6 L1358.5,3097.9 L1360.4,3098.2 L1362.3,3098.5 L1364.2,3098.8 L1366.1,3099.0 L1367.9,3099.2 L1369.8,3099.4 L1371.7,3099.5 L1373.6,3099.7 L1375.5,3099.8 L1377.4,3099.9 L1379.3,3099.9 L1381.1,3100.0 L1383.0,3100.0 L1384.9,3100.0 L1386.8,3100.0 L1388.7,3099.9 L1390.6,3099.9 L1392.4,3099.8 L1394.3,3099.7 L1396.2,3099.6 L1398.1,3099.5 L1400.0,3099.3 L1401.9,3099.2 L1403.7,3099.0 L1405.6,3098.8 L1407.5,3098.6 L1409.4,3098.4 L1411.3,3098.2 L1413.2,3098.0 L1415.1,3097.8 L1416.9,3097.6 L1418.8,3097.3 L1420.7,3097.1 L1422.6,3096.8 L1424.5,3096.6 L1426.4,3096.3 L1428.2,3096.0 L1430.1,3095.8 L1432.0,3095.5 L1433.9,3095.2 L1435.8,3094.9 L1437.7,3094.7 L1439.6,3094.4 L1441.4,3094.1 L1443.3,3093.9 L1445.2,3093.6 L1447.1,3093.3 L1449.0,3093.1 L1450.9,3092.8 L1452.7,3092.6 L1454.6,3092.4 L1456.5,3092.1 L1458.4,3091.9 L1460.3,3091.7 L1462.2,3091.5 L1464.0,3091.3 L1465.9,3091.1 L1467.8,3090.9 L1469.7,3090.7 L1471.6,3090.6 L1473.5,3090.4 L1475.4,3090.3 L1477.2,3090.2 L1479.1,3090.1 L1481.0,3089.9 L1482.9,3089.9 L1484.8,3089.8 L1486.7,3089.7 L1488.5,3089.7 L1490.4,3089.6 L1492.3,3089.6 L1494.2,3089.6 L1496.1,3089.6 L1498.0,3089.6 L1499.9,3089.6 L1501.7,3089.7 L1503.6,3089.7 L1505.5,3089.8 L1507.4,3089.9 L1509.3,3090.0 L1511.2,3090.1 L1513.0,3090.2 L1514.9,3090.3 L1516.8,3090.5 L1518.7,3090.6 L1520.6,3090.8 L1522.5,3090.9 L1524.3,3091.1 L1526.2,3091.3 L1528.1,3091.5 L1530.0,3091.8 L1531.9,3092.0 L1533.8,3092.2 L1535.7,3092.5 L1537.5,3092.7 L1539.4,3093.0 L1541.3,3093.3 L1543.2,3093.5 L1545.1,3093.8 L1547.0,3094.1 L1548.8,3094.4 L1550.7,3094.7 L1552.6,3095.0 L1554.5,3095.3"/>
<path class="ax" stroke-width="3.2" d="M224.0,3534.1h14.3 M1554.5,3534.1h-14.3 M224.0,3331.7h14.3 M1554.5,3331.7h-14.3 M224.0,3129.4h14.3 M1554.5,3129.4h-14.3 M224.0,2927.0h14.3 M1554.5,2927.0h-14.3 M224.0,2724.6h14.3 M1554.5,2724.6h-14.3 M490.1,3736.5v-14.3 M490.1,2624.5v14.3 M756.2,3736.5v-14.3 M756.2,2624.5v14.3 M1022.3,3736.5v-14.3 M1022.3,2624.5v14.3 M1288.4,3736.5v-14.3 M1288.4,2624.5v14.3"/>
<rect x="221.2" y="2623" width="5.40" height="1114.90" fill="#000"/>
<rect x="1551.9" y="2623" width="5.10" height="1114.90" fill="#000"/>
<rect x="221.2" y="2623" width="1335.80" height="3.00" fill="#000"/>
<rect x="221.2" y="3735" width="1335.80" height="2.90" fill="#000"/>
<text transform="translate(224.0,3812.8) scale(1,1.04)" font-size="61" text-anchor="middle">0</text>
<text transform="translate(490.1,3812.8) scale(1,1.04)" font-size="61" text-anchor="middle">200</text>
<text transform="translate(756.2,3812.8) scale(1,1.04)" font-size="61" text-anchor="middle">400</text>
<text transform="translate(1022.3,3812.8) scale(1,1.04)" font-size="61" text-anchor="middle">600</text>
<text transform="translate(1288.4,3812.8) scale(1,1.04)" font-size="61" text-anchor="middle">800</text>
<text transform="translate(1554.5,3812.8) scale(1,1.04)" font-size="61" text-anchor="middle">1000</text>
<text transform="translate(201,3757.8) scale(1,1.04)" font-size="60" text-anchor="end">0</text>
<text transform="translate(201,3555.4) scale(1,1.04)" font-size="60" text-anchor="end">0.2</text>
<text transform="translate(201,3353.0) scale(1,1.04)" font-size="60" text-anchor="end">0.4</text>
<text transform="translate(201,3150.7) scale(1,1.04)" font-size="60" text-anchor="end">0.6</text>
<text transform="translate(201,2948.3) scale(1,1.04)" font-size="60" text-anchor="end">0.8</text>
<text transform="translate(201,2745.9) scale(1,1.04)" font-size="60" text-anchor="end">1</text>
<text x="888.0" y="3894.8" font-size="60.8" text-anchor="middle">Frequency (Hz)</text>
<text transform="translate(77,3176.5) rotate(-90)" font-size="61.6" text-anchor="middle">Reflection coefficient</text>
<text x="1426.5" y="2728" font-size="63" text-anchor="middle">(c)</text>
<path class="r" stroke-width="4.6" d="M1145.5,3496.5H1369.4"/>
<text x="1391.5" y="3517" font-size="60">d=1</text>
<path class="k" stroke-width="2.8" stroke-dasharray="8.4 3.9" stroke-dashoffset="9.2" d="M1145.5,3572.6H1369.4"/>
<text x="1391.5" y="3594.3" font-size="60">d=2</text>
<path class="g" stroke-width="3" d="M1145.5,3649.5H1369.4"/>
<text x="1391.5" y="3671.9" font-size="60">d=4</text>
</g>
</svg>
</body>
</html>
